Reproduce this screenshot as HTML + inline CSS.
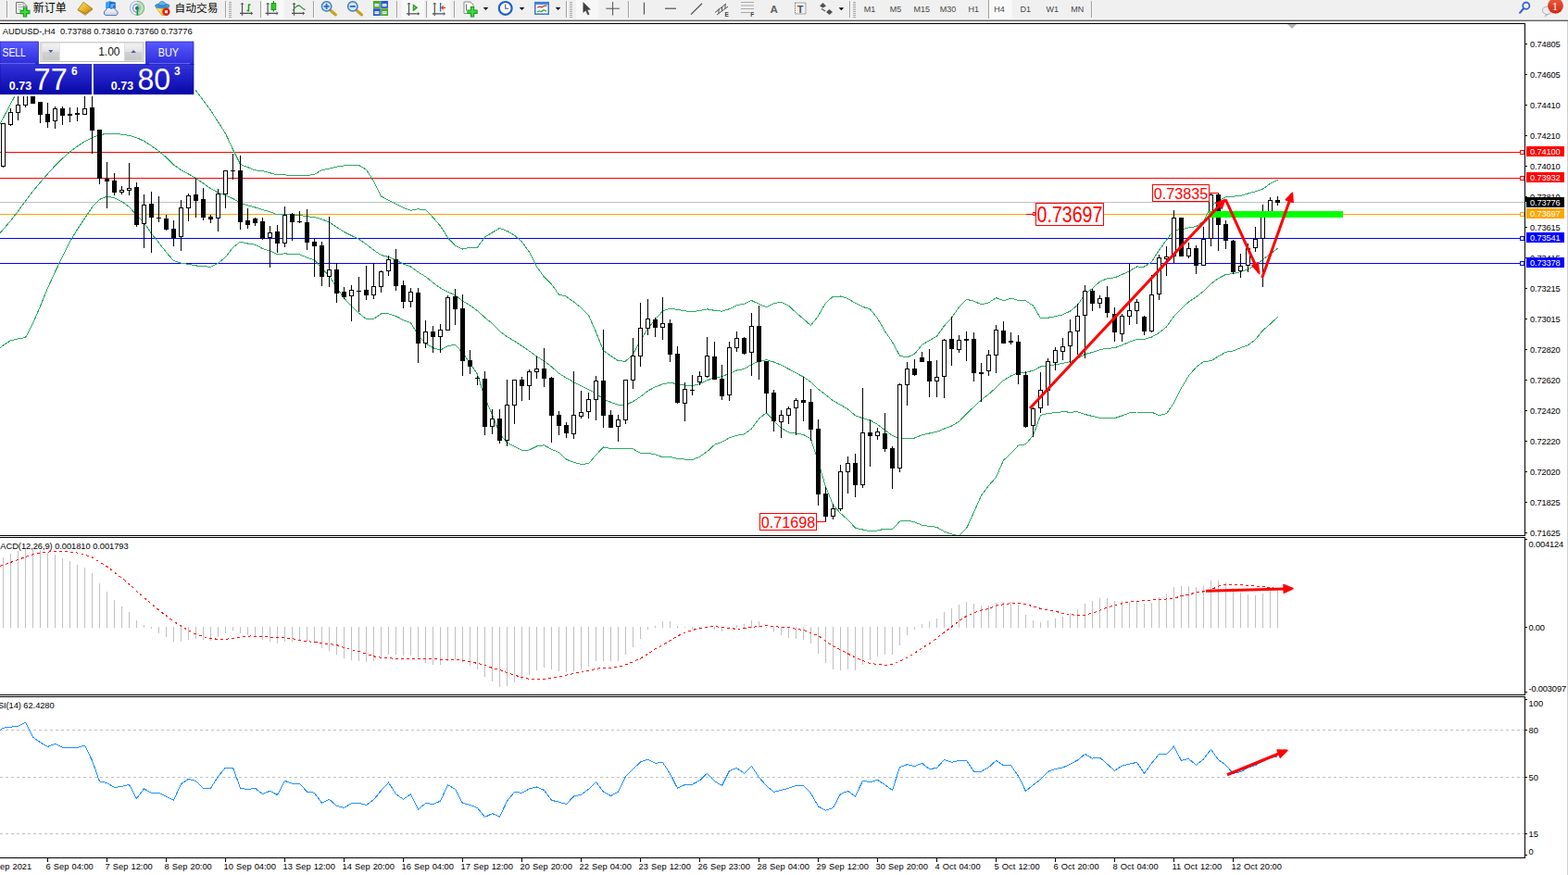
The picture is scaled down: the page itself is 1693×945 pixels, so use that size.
<!DOCTYPE html>
<html><head><meta charset="utf-8"><title>AUDUSD H4</title>
<style>
html,body{margin:0;padding:0;background:#fff;}
body{width:1693px;height:945px;position:relative;overflow:hidden;font-family:"Liberation Sans",sans-serif;}
svg text{font-family:"Liberation Sans",sans-serif;}
</style></head><body>
<svg width="1693" height="945" viewBox="0 0 1693 945" style="position:absolute;left:0;top:0" font-family="Liberation Sans, sans-serif">
<defs>
<clipPath id="cm"><rect x="0" y="26" width="1646" height="552"/></clipPath>
<clipPath id="c2"><rect x="0" y="581" width="1646" height="169"/></clipPath>
<clipPath id="c3"><rect x="0" y="753" width="1646" height="173"/></clipPath>
</defs>
<rect x="0" y="23" width="1693" height="922" fill="#fff" />
<g clip-path="url(#cm)">
<g shape-rendering="crispEdges">
<rect x="0" y="164" width="1646" height="1" fill="#ff0000" />
<rect x="0" y="192" width="1646" height="1" fill="#ff0000" />
<rect x="0" y="218" width="1646" height="1" fill="#c0c0c0" />
<rect x="0" y="231" width="1646" height="1" fill="#ffa500" />
<rect x="0" y="257" width="1646" height="1" fill="#0000ff" />
<rect x="0" y="284" width="1646" height="1" fill="#0000ff" />
</g>
<g shape-rendering="crispEdges">
<polyline points="-4.5,142.5 3.5,127.4 11.5,112.2 19.5,97.1 27.5,88.0 35.5,84.1 43.5,80.1 51.5,76.2 59.5,72.2 67.5,70.5 75.5,68.9 83.5,67.3 91.5,65.7 99.5,64.1 107.5,62.5 115.5,62.3 123.5,62.7 131.5,63.1 139.5,63.5 147.5,63.9 155.5,64.3 163.5,62.8 171.5,64.3 179.5,67.3 187.5,74.5 195.5,83.0 203.5,90.6 211.5,97.7 219.5,108.5 227.5,119.3 235.5,131.7 243.5,144.2 251.5,161.5 259.5,177.5 267.5,180.6 275.5,183.9 283.5,184.5 291.5,186.7 299.5,189.0 307.5,188.8 315.5,189.8 323.5,189.9 331.5,189.4 339.5,188.5 347.5,183.6 355.5,182.2 363.5,180.1 371.5,179.0 379.5,178.3 387.5,178.4 395.5,183.1 403.5,195.8 411.5,212.0 419.5,216.2 427.5,220.2 435.5,224.4 443.5,227.3 451.5,225.8 459.5,226.7 467.5,234.8 475.5,244.1 483.5,256.7 491.5,265.3 499.5,269.0 507.5,267.4 515.5,267.1 523.5,256.1 531.5,251.1 539.5,246.5 547.5,249.4 555.5,254.2 563.5,261.1 571.5,272.2 579.5,288.0 587.5,299.2 595.5,307.0 603.5,318.2 611.5,320.2 619.5,326.1 627.5,332.2 635.5,340.4 643.5,358.7 651.5,378.7 659.5,384.3 667.5,389.8 675.5,390.2 683.5,382.4 691.5,367.8 699.5,354.9 707.5,345.0 715.5,336.0 723.5,333.1 731.5,334.4 739.5,335.9 747.5,336.5 755.5,335.7 763.5,333.8 771.5,335.4 779.5,336.1 787.5,333.7 795.5,329.8 803.5,328.1 811.5,324.5 819.5,328.4 827.5,331.7 835.5,327.6 843.5,326.2 851.5,330.1 859.5,337.7 867.5,344.5 875.5,351.5 883.5,341.2 891.5,327.2 899.5,320.2 907.5,320.0 915.5,322.5 923.5,327.4 931.5,331.4 939.5,333.8 947.5,343.8 955.5,357.6 963.5,369.5 971.5,384.2 979.5,385.9 987.5,382.3 995.5,372.4 1003.5,367.7 1011.5,363.1 1019.5,351.9 1027.5,343.3 1035.5,331.7 1043.5,323.3 1051.5,325.2 1059.5,328.8 1067.5,326.9 1075.5,321.6 1083.5,324.7 1091.5,322.1 1099.5,324.3 1107.5,324.9 1115.5,330.0 1123.5,343.7 1131.5,343.2 1139.5,341.7 1147.5,339.8 1155.5,336.1 1163.5,329.5 1171.5,317.4 1179.5,311.4 1187.5,304.1 1195.5,300.7 1203.5,299.9 1211.5,296.5 1219.5,292.8 1227.5,288.0 1235.5,288.1 1243.5,282.8 1251.5,270.1 1259.5,259.3 1267.5,248.3 1275.5,247.8 1283.5,245.8 1291.5,244.7 1299.5,238.8 1307.5,223.0 1315.5,216.5 1323.5,212.7 1331.5,212.1 1339.5,211.4 1347.5,209.0 1355.5,206.8 1363.5,204.1 1371.5,198.3 1379.5,194.3" fill="none" stroke="#2ea868" stroke-width="1" />
<polyline points="-4.5,257.5 3.5,247.6 11.5,238.4 19.5,228.2 27.5,217.0 35.5,206.6 43.5,197.0 51.5,187.8 59.5,179.0 67.5,171.1 75.5,164.1 83.5,158.0 91.5,152.7 99.5,148.7 107.5,145.6 115.5,144.4 123.5,144.4 131.5,145.1 139.5,146.4 147.5,148.6 155.5,152.4 163.5,157.5 171.5,163.2 179.5,169.9 187.5,178.0 195.5,183.6 203.5,188.0 211.5,192.3 219.5,198.1 227.5,203.7 235.5,208.0 243.5,211.0 251.5,214.4 259.5,219.3 267.5,221.8 275.5,224.0 283.5,226.5 291.5,228.8 299.5,231.8 307.5,231.3 315.5,232.2 323.5,232.4 331.5,233.7 339.5,234.6 347.5,236.7 355.5,240.1 363.5,245.3 371.5,250.5 379.5,254.5 387.5,258.3 395.5,263.8 403.5,270.1 411.5,275.5 419.5,277.5 427.5,280.8 435.5,285.1 443.5,288.0 451.5,293.9 459.5,298.7 467.5,305.2 475.5,311.1 483.5,315.2 491.5,318.8 499.5,325.0 507.5,329.9 515.5,335.7 523.5,342.9 531.5,349.5 539.5,357.6 547.5,363.8 555.5,368.3 563.5,373.7 571.5,379.1 579.5,385.0 587.5,390.0 595.5,396.1 603.5,403.3 611.5,408.2 619.5,412.7 627.5,416.8 635.5,420.6 643.5,425.1 651.5,430.8 659.5,434.4 667.5,437.3 675.5,437.4 683.5,433.6 691.5,428.7 699.5,422.1 707.5,417.9 715.5,414.9 723.5,413.2 731.5,414.8 739.5,416.0 747.5,416.6 755.5,414.5 763.5,410.7 771.5,407.9 779.5,406.8 787.5,403.3 795.5,400.0 803.5,398.5 811.5,393.7 819.5,390.2 827.5,388.7 835.5,391.0 843.5,394.2 851.5,398.5 859.5,402.9 867.5,407.0 875.5,412.7 883.5,420.2 891.5,426.4 899.5,432.8 907.5,437.2 915.5,441.9 923.5,448.8 931.5,451.7 939.5,453.9 947.5,458.4 955.5,464.4 963.5,470.5 971.5,473.7 979.5,474.0 987.5,473.0 995.5,469.8 1003.5,468.0 1011.5,466.3 1019.5,463.0 1027.5,460.1 1035.5,455.3 1043.5,447.0 1051.5,439.3 1059.5,432.0 1067.5,425.7 1075.5,418.5 1083.5,410.8 1091.5,406.0 1099.5,402.7 1107.5,402.4 1115.5,400.2 1123.5,396.0 1131.5,394.8 1139.5,393.8 1147.5,392.3 1155.5,390.7 1163.5,387.1 1171.5,382.5 1179.5,380.5 1187.5,377.7 1195.5,376.3 1203.5,375.8 1211.5,372.7 1219.5,369.3 1227.5,366.5 1235.5,366.5 1243.5,364.0 1251.5,359.4 1259.5,353.0 1267.5,341.7 1275.5,333.5 1283.5,325.9 1291.5,320.7 1299.5,314.6 1307.5,306.4 1315.5,300.6 1323.5,296.5 1331.5,295.6 1339.5,293.5 1347.5,290.8 1355.5,286.8 1363.5,280.4 1371.5,274.2 1379.5,268.4" fill="none" stroke="#2ea868" stroke-width="1" />
<polyline points="-4.5,379.0 3.5,372.9 11.5,367.8 19.5,365.9 27.5,364.5 35.5,349.4 43.5,330.7 51.5,311.0 59.5,293.7 67.5,277.0 75.5,260.9 83.5,247.7 91.5,235.8 99.5,223.8 107.5,215.4 115.5,212.2 123.5,213.7 131.5,217.6 139.5,223.6 147.5,232.2 155.5,240.5 163.5,252.2 171.5,262.1 179.5,272.6 187.5,281.5 195.5,284.3 203.5,285.4 211.5,286.9 219.5,287.8 227.5,288.2 235.5,284.2 243.5,277.8 251.5,267.3 259.5,261.1 267.5,263.0 275.5,264.2 283.5,268.5 291.5,271.0 299.5,274.7 307.5,273.8 315.5,274.6 323.5,274.9 331.5,278.1 339.5,280.8 347.5,289.8 355.5,297.9 363.5,310.5 371.5,322.0 379.5,330.7 387.5,338.2 395.5,344.5 403.5,344.3 411.5,339.0 419.5,338.9 427.5,341.4 435.5,345.7 443.5,348.6 451.5,362.0 459.5,370.7 467.5,375.7 475.5,378.1 483.5,373.7 491.5,372.3 499.5,381.1 507.5,392.3 515.5,404.3 523.5,429.7 531.5,447.8 539.5,468.6 547.5,478.1 555.5,482.4 563.5,486.3 571.5,486.0 579.5,482.0 587.5,480.8 595.5,485.3 603.5,488.5 611.5,496.2 619.5,499.3 627.5,501.4 635.5,500.7 643.5,491.4 651.5,482.9 659.5,484.5 667.5,484.7 675.5,484.5 683.5,484.8 691.5,489.5 699.5,489.3 707.5,490.9 715.5,493.7 723.5,493.3 731.5,495.3 739.5,496.1 747.5,496.6 755.5,493.3 763.5,487.7 771.5,480.3 779.5,477.5 787.5,472.9 795.5,470.2 803.5,469.0 811.5,463.0 819.5,452.0 827.5,445.8 835.5,454.3 843.5,462.2 851.5,466.9 859.5,468.1 867.5,469.5 875.5,473.9 883.5,499.3 891.5,525.5 899.5,545.4 907.5,554.4 915.5,561.3 923.5,570.2 931.5,572.0 939.5,573.9 947.5,572.9 955.5,571.1 963.5,571.6 971.5,563.1 979.5,562.1 987.5,563.8 995.5,567.2 1003.5,568.3 1011.5,569.4 1019.5,574.1 1027.5,576.9 1035.5,578.8 1043.5,570.7 1051.5,553.3 1059.5,535.1 1067.5,524.5 1075.5,515.5 1083.5,497.0 1091.5,489.8 1099.5,481.1 1107.5,479.8 1115.5,470.4 1123.5,448.3 1131.5,446.3 1139.5,445.8 1147.5,444.7 1155.5,445.2 1163.5,444.8 1171.5,447.5 1179.5,449.5 1187.5,451.4 1195.5,451.8 1203.5,451.7 1211.5,449.0 1219.5,445.9 1227.5,445.0 1235.5,445.0 1243.5,445.1 1251.5,448.6 1259.5,446.6 1267.5,435.2 1275.5,419.2 1283.5,405.9 1291.5,396.6 1299.5,390.4 1307.5,389.8 1315.5,384.8 1323.5,380.3 1331.5,379.0 1339.5,375.7 1347.5,372.7 1355.5,366.8 1363.5,356.8 1371.5,350.0 1379.5,342.4" fill="none" stroke="#2ea868" stroke-width="1" />
</g>
<g shape-rendering="crispEdges">
<rect x="3" y="133" width="1" height="48" fill="#000" />
<rect x="1" y="133" width="5" height="47" fill="#000" />
<rect x="2" y="134" width="3" height="45" fill="#fff" />
<rect x="11" y="117" width="1" height="19" fill="#000" />
<rect x="9" y="121" width="5" height="14" fill="#000" />
<rect x="10" y="122" width="3" height="12" fill="#fff" />
<rect x="19" y="98" width="1" height="32" fill="#000" />
<rect x="17" y="113" width="5" height="9" fill="#000" />
<rect x="18" y="114" width="3" height="7" fill="#fff" />
<rect x="27" y="96" width="1" height="20" fill="#000" />
<rect x="25" y="96" width="5" height="18" fill="#000" />
<rect x="26" y="97" width="3" height="16" fill="#fff" />
<rect x="35" y="96" width="1" height="16" fill="#000" />
<rect x="33" y="96" width="5" height="16" fill="#000" />
<rect x="43" y="110" width="1" height="23" fill="#000" />
<rect x="41" y="110" width="5" height="14" fill="#000" />
<rect x="51" y="111" width="1" height="27" fill="#000" />
<rect x="49" y="123" width="5" height="9" fill="#000" />
<rect x="59" y="115" width="1" height="24" fill="#000" />
<rect x="57" y="117" width="5" height="14" fill="#000" />
<rect x="58" y="118" width="3" height="12" fill="#fff" />
<rect x="67" y="115" width="1" height="20" fill="#000" />
<rect x="65" y="117" width="5" height="8" fill="#000" />
<rect x="75" y="116" width="1" height="16" fill="#000" />
<rect x="73" y="123" width="5" height="2" fill="#000" />
<rect x="83" y="116" width="1" height="15" fill="#000" />
<rect x="81" y="122" width="5" height="2" fill="#000" />
<rect x="91" y="98" width="1" height="26" fill="#000" />
<rect x="89" y="117" width="5" height="7" fill="#000" />
<rect x="90" y="118" width="3" height="5" fill="#fff" />
<rect x="99" y="98" width="1" height="68" fill="#000" />
<rect x="97" y="116" width="5" height="25" fill="#000" />
<rect x="107" y="140" width="1" height="59" fill="#000" />
<rect x="105" y="140" width="5" height="53" fill="#000" />
<rect x="115" y="175" width="1" height="50" fill="#000" />
<rect x="113" y="193" width="5" height="3" fill="#000" />
<rect x="123" y="187" width="1" height="24" fill="#000" />
<rect x="121" y="195" width="5" height="13" fill="#000" />
<rect x="131" y="201" width="1" height="9" fill="#000" />
<rect x="129" y="205" width="5" height="3" fill="#000" />
<rect x="130" y="206" width="3" height="1" fill="#fff" />
<rect x="139" y="176" width="1" height="35" fill="#000" />
<rect x="137" y="203" width="5" height="3" fill="#000" />
<rect x="138" y="204" width="3" height="1" fill="#fff" />
<rect x="147" y="197" width="1" height="48" fill="#000" />
<rect x="145" y="202" width="5" height="41" fill="#000" />
<rect x="155" y="210" width="1" height="58" fill="#000" />
<rect x="153" y="221" width="5" height="21" fill="#000" />
<rect x="154" y="222" width="3" height="19" fill="#fff" />
<rect x="163" y="207" width="1" height="66" fill="#000" />
<rect x="161" y="220" width="5" height="15" fill="#000" />
<rect x="171" y="212" width="1" height="28" fill="#000" />
<rect x="169" y="235" width="5" height="1" fill="#000" />
<rect x="179" y="232" width="1" height="17" fill="#000" />
<rect x="177" y="236" width="5" height="12" fill="#000" />
<rect x="187" y="238" width="1" height="28" fill="#000" />
<rect x="185" y="247" width="5" height="10" fill="#000" />
<rect x="195" y="216" width="1" height="55" fill="#000" />
<rect x="193" y="224" width="5" height="32" fill="#000" />
<rect x="194" y="225" width="3" height="30" fill="#fff" />
<rect x="203" y="209" width="1" height="30" fill="#000" />
<rect x="201" y="211" width="5" height="14" fill="#000" />
<rect x="202" y="212" width="3" height="12" fill="#fff" />
<rect x="211" y="192" width="1" height="43" fill="#000" />
<rect x="209" y="210" width="5" height="7" fill="#000" />
<rect x="219" y="203" width="1" height="35" fill="#000" />
<rect x="217" y="215" width="5" height="20" fill="#000" />
<rect x="227" y="232" width="1" height="9" fill="#000" />
<rect x="225" y="234" width="5" height="3" fill="#000" />
<rect x="235" y="204" width="1" height="46" fill="#000" />
<rect x="233" y="209" width="5" height="27" fill="#000" />
<rect x="234" y="210" width="3" height="25" fill="#fff" />
<rect x="243" y="184" width="1" height="41" fill="#000" />
<rect x="241" y="184" width="5" height="26" fill="#000" />
<rect x="242" y="185" width="3" height="24" fill="#fff" />
<rect x="251" y="166" width="1" height="28" fill="#000" />
<rect x="249" y="184" width="5" height="1" fill="#000" />
<rect x="259" y="168" width="1" height="80" fill="#000" />
<rect x="257" y="184" width="5" height="56" fill="#000" />
<rect x="267" y="225" width="1" height="22" fill="#000" />
<rect x="265" y="238" width="5" height="5" fill="#000" />
<rect x="275" y="235" width="1" height="9" fill="#000" />
<rect x="273" y="236" width="5" height="5" fill="#000" />
<rect x="283" y="235" width="1" height="24" fill="#000" />
<rect x="281" y="239" width="5" height="19" fill="#000" />
<rect x="291" y="244" width="1" height="45" fill="#000" />
<rect x="289" y="251" width="5" height="6" fill="#000" />
<rect x="290" y="252" width="3" height="4" fill="#fff" />
<rect x="299" y="243" width="1" height="30" fill="#000" />
<rect x="297" y="250" width="5" height="13" fill="#000" />
<rect x="307" y="223" width="1" height="44" fill="#000" />
<rect x="305" y="232" width="5" height="31" fill="#000" />
<rect x="306" y="233" width="3" height="29" fill="#fff" />
<rect x="315" y="230" width="1" height="30" fill="#000" />
<rect x="313" y="231" width="5" height="9" fill="#000" />
<rect x="323" y="228" width="1" height="13" fill="#000" />
<rect x="321" y="239" width="5" height="1" fill="#000" />
<rect x="331" y="226" width="1" height="44" fill="#000" />
<rect x="329" y="240" width="5" height="22" fill="#000" />
<rect x="339" y="258" width="1" height="41" fill="#000" />
<rect x="337" y="261" width="5" height="5" fill="#000" />
<rect x="347" y="261" width="1" height="48" fill="#000" />
<rect x="345" y="265" width="5" height="34" fill="#000" />
<rect x="355" y="234" width="1" height="76" fill="#000" />
<rect x="353" y="291" width="5" height="8" fill="#000" />
<rect x="354" y="292" width="3" height="6" fill="#fff" />
<rect x="363" y="284" width="1" height="43" fill="#000" />
<rect x="361" y="291" width="5" height="26" fill="#000" />
<rect x="371" y="310" width="1" height="13" fill="#000" />
<rect x="369" y="315" width="5" height="6" fill="#000" />
<rect x="379" y="308" width="1" height="39" fill="#000" />
<rect x="377" y="313" width="5" height="7" fill="#000" />
<rect x="378" y="314" width="3" height="5" fill="#fff" />
<rect x="387" y="299" width="1" height="38" fill="#000" />
<rect x="385" y="314" width="5" height="1" fill="#000" />
<rect x="395" y="287" width="1" height="37" fill="#000" />
<rect x="393" y="313" width="5" height="6" fill="#000" />
<rect x="403" y="284" width="1" height="39" fill="#000" />
<rect x="401" y="309" width="5" height="10" fill="#000" />
<rect x="402" y="310" width="3" height="8" fill="#fff" />
<rect x="411" y="292" width="1" height="24" fill="#000" />
<rect x="409" y="293" width="5" height="17" fill="#000" />
<rect x="410" y="294" width="3" height="15" fill="#fff" />
<rect x="419" y="276" width="1" height="22" fill="#000" />
<rect x="417" y="280" width="5" height="13" fill="#000" />
<rect x="418" y="281" width="3" height="11" fill="#fff" />
<rect x="427" y="269" width="1" height="45" fill="#000" />
<rect x="425" y="280" width="5" height="29" fill="#000" />
<rect x="435" y="303" width="1" height="30" fill="#000" />
<rect x="433" y="308" width="5" height="18" fill="#000" />
<rect x="443" y="311" width="1" height="21" fill="#000" />
<rect x="441" y="315" width="5" height="11" fill="#000" />
<rect x="442" y="316" width="3" height="9" fill="#fff" />
<rect x="451" y="311" width="1" height="81" fill="#000" />
<rect x="449" y="316" width="5" height="55" fill="#000" />
<rect x="459" y="346" width="1" height="30" fill="#000" />
<rect x="457" y="358" width="5" height="13" fill="#000" />
<rect x="458" y="359" width="3" height="11" fill="#fff" />
<rect x="467" y="352" width="1" height="29" fill="#000" />
<rect x="465" y="358" width="5" height="6" fill="#000" />
<rect x="475" y="350" width="1" height="31" fill="#000" />
<rect x="473" y="356" width="5" height="8" fill="#000" />
<rect x="474" y="357" width="3" height="6" fill="#fff" />
<rect x="483" y="319" width="1" height="37" fill="#000" />
<rect x="481" y="321" width="5" height="36" fill="#000" />
<rect x="482" y="322" width="3" height="34" fill="#fff" />
<rect x="491" y="312" width="1" height="39" fill="#000" />
<rect x="489" y="320" width="5" height="14" fill="#000" />
<rect x="499" y="318" width="1" height="88" fill="#000" />
<rect x="497" y="333" width="5" height="57" fill="#000" />
<rect x="507" y="378" width="1" height="26" fill="#000" />
<rect x="505" y="389" width="5" height="7" fill="#000" />
<rect x="515" y="406" width="1" height="10" fill="#000" />
<rect x="513" y="408" width="5" height="1" fill="#000" />
<rect x="523" y="401" width="1" height="69" fill="#000" />
<rect x="521" y="409" width="5" height="52" fill="#000" />
<rect x="531" y="442" width="1" height="27" fill="#000" />
<rect x="529" y="452" width="5" height="9" fill="#000" />
<rect x="530" y="453" width="3" height="7" fill="#fff" />
<rect x="539" y="442" width="1" height="37" fill="#000" />
<rect x="537" y="452" width="5" height="24" fill="#000" />
<rect x="547" y="410" width="1" height="72" fill="#000" />
<rect x="545" y="437" width="5" height="39" fill="#000" />
<rect x="546" y="438" width="3" height="37" fill="#fff" />
<rect x="555" y="410" width="1" height="48" fill="#000" />
<rect x="553" y="410" width="5" height="28" fill="#000" />
<rect x="554" y="411" width="3" height="26" fill="#fff" />
<rect x="563" y="407" width="1" height="26" fill="#000" />
<rect x="561" y="410" width="5" height="7" fill="#000" />
<rect x="571" y="399" width="1" height="33" fill="#000" />
<rect x="569" y="401" width="5" height="16" fill="#000" />
<rect x="570" y="402" width="3" height="14" fill="#fff" />
<rect x="579" y="385" width="1" height="24" fill="#000" />
<rect x="577" y="398" width="5" height="4" fill="#000" />
<rect x="578" y="399" width="3" height="2" fill="#fff" />
<rect x="587" y="376" width="1" height="42" fill="#000" />
<rect x="585" y="398" width="5" height="11" fill="#000" />
<rect x="595" y="407" width="1" height="71" fill="#000" />
<rect x="593" y="408" width="5" height="41" fill="#000" />
<rect x="603" y="444" width="1" height="26" fill="#000" />
<rect x="601" y="448" width="5" height="12" fill="#000" />
<rect x="611" y="456" width="1" height="17" fill="#000" />
<rect x="609" y="459" width="5" height="9" fill="#000" />
<rect x="619" y="401" width="1" height="73" fill="#000" />
<rect x="617" y="448" width="5" height="21" fill="#000" />
<rect x="618" y="449" width="3" height="19" fill="#fff" />
<rect x="627" y="422" width="1" height="30" fill="#000" />
<rect x="625" y="445" width="5" height="5" fill="#000" />
<rect x="626" y="446" width="3" height="3" fill="#fff" />
<rect x="635" y="424" width="1" height="28" fill="#000" />
<rect x="633" y="431" width="5" height="14" fill="#000" />
<rect x="634" y="432" width="3" height="12" fill="#fff" />
<rect x="643" y="406" width="1" height="48" fill="#000" />
<rect x="641" y="411" width="5" height="21" fill="#000" />
<rect x="642" y="412" width="3" height="19" fill="#fff" />
<rect x="651" y="356" width="1" height="106" fill="#000" />
<rect x="649" y="411" width="5" height="38" fill="#000" />
<rect x="659" y="443" width="1" height="19" fill="#000" />
<rect x="657" y="448" width="5" height="14" fill="#000" />
<rect x="667" y="448" width="1" height="29" fill="#000" />
<rect x="665" y="453" width="5" height="8" fill="#000" />
<rect x="666" y="454" width="3" height="6" fill="#fff" />
<rect x="675" y="410" width="1" height="48" fill="#000" />
<rect x="673" y="410" width="5" height="44" fill="#000" />
<rect x="674" y="411" width="3" height="42" fill="#fff" />
<rect x="683" y="365" width="1" height="55" fill="#000" />
<rect x="681" y="384" width="5" height="27" fill="#000" />
<rect x="682" y="385" width="3" height="25" fill="#fff" />
<rect x="691" y="327" width="1" height="69" fill="#000" />
<rect x="689" y="354" width="5" height="31" fill="#000" />
<rect x="690" y="355" width="3" height="29" fill="#fff" />
<rect x="699" y="323" width="1" height="39" fill="#000" />
<rect x="697" y="344" width="5" height="11" fill="#000" />
<rect x="698" y="345" width="3" height="9" fill="#fff" />
<rect x="707" y="343" width="1" height="21" fill="#000" />
<rect x="705" y="345" width="5" height="9" fill="#000" />
<rect x="715" y="321" width="1" height="46" fill="#000" />
<rect x="713" y="349" width="5" height="5" fill="#000" />
<rect x="714" y="350" width="3" height="3" fill="#fff" />
<rect x="723" y="345" width="1" height="46" fill="#000" />
<rect x="721" y="349" width="5" height="34" fill="#000" />
<rect x="731" y="374" width="1" height="62" fill="#000" />
<rect x="729" y="382" width="5" height="53" fill="#000" />
<rect x="739" y="413" width="1" height="42" fill="#000" />
<rect x="737" y="420" width="5" height="16" fill="#000" />
<rect x="738" y="421" width="3" height="14" fill="#fff" />
<rect x="747" y="405" width="1" height="22" fill="#000" />
<rect x="745" y="421" width="5" height="1" fill="#000" />
<rect x="755" y="401" width="1" height="15" fill="#000" />
<rect x="753" y="406" width="5" height="7" fill="#000" />
<rect x="754" y="407" width="3" height="5" fill="#fff" />
<rect x="763" y="364" width="1" height="44" fill="#000" />
<rect x="761" y="384" width="5" height="23" fill="#000" />
<rect x="762" y="385" width="3" height="21" fill="#fff" />
<rect x="771" y="369" width="1" height="41" fill="#000" />
<rect x="769" y="385" width="5" height="25" fill="#000" />
<rect x="779" y="394" width="1" height="38" fill="#000" />
<rect x="777" y="409" width="5" height="19" fill="#000" />
<rect x="787" y="369" width="1" height="64" fill="#000" />
<rect x="785" y="375" width="5" height="52" fill="#000" />
<rect x="786" y="376" width="3" height="50" fill="#fff" />
<rect x="795" y="358" width="1" height="22" fill="#000" />
<rect x="793" y="365" width="5" height="11" fill="#000" />
<rect x="794" y="366" width="3" height="9" fill="#fff" />
<rect x="803" y="364" width="1" height="19" fill="#000" />
<rect x="801" y="365" width="5" height="17" fill="#000" />
<rect x="811" y="338" width="1" height="68" fill="#000" />
<rect x="809" y="352" width="5" height="29" fill="#000" />
<rect x="810" y="353" width="3" height="27" fill="#fff" />
<rect x="819" y="330" width="1" height="80" fill="#000" />
<rect x="817" y="352" width="5" height="39" fill="#000" />
<rect x="827" y="390" width="1" height="56" fill="#000" />
<rect x="825" y="390" width="5" height="35" fill="#000" />
<rect x="835" y="421" width="1" height="45" fill="#000" />
<rect x="833" y="424" width="5" height="31" fill="#000" />
<rect x="843" y="443" width="1" height="30" fill="#000" />
<rect x="841" y="448" width="5" height="8" fill="#000" />
<rect x="842" y="449" width="3" height="6" fill="#fff" />
<rect x="851" y="439" width="1" height="19" fill="#000" />
<rect x="849" y="441" width="5" height="8" fill="#000" />
<rect x="850" y="442" width="3" height="6" fill="#fff" />
<rect x="859" y="430" width="1" height="40" fill="#000" />
<rect x="857" y="432" width="5" height="9" fill="#000" />
<rect x="858" y="433" width="3" height="7" fill="#fff" />
<rect x="867" y="407" width="1" height="48" fill="#000" />
<rect x="865" y="432" width="5" height="3" fill="#000" />
<rect x="875" y="420" width="1" height="56" fill="#000" />
<rect x="873" y="434" width="5" height="30" fill="#000" />
<rect x="883" y="453" width="1" height="93" fill="#000" />
<rect x="881" y="463" width="5" height="71" fill="#000" />
<rect x="891" y="526" width="1" height="38" fill="#000" />
<rect x="889" y="533" width="5" height="25" fill="#000" />
<rect x="899" y="544" width="1" height="17" fill="#000" />
<rect x="897" y="549" width="5" height="9" fill="#000" />
<rect x="898" y="550" width="3" height="7" fill="#fff" />
<rect x="907" y="502" width="1" height="50" fill="#000" />
<rect x="905" y="509" width="5" height="41" fill="#000" />
<rect x="906" y="510" width="3" height="39" fill="#fff" />
<rect x="915" y="493" width="1" height="40" fill="#000" />
<rect x="913" y="500" width="5" height="10" fill="#000" />
<rect x="914" y="501" width="3" height="8" fill="#fff" />
<rect x="923" y="490" width="1" height="47" fill="#000" />
<rect x="921" y="500" width="5" height="24" fill="#000" />
<rect x="931" y="419" width="1" height="108" fill="#000" />
<rect x="929" y="467" width="5" height="57" fill="#000" />
<rect x="930" y="468" width="3" height="55" fill="#fff" />
<rect x="939" y="453" width="1" height="51" fill="#000" />
<rect x="937" y="467" width="5" height="4" fill="#000" />
<rect x="947" y="462" width="1" height="13" fill="#000" />
<rect x="945" y="466" width="5" height="5" fill="#000" />
<rect x="946" y="467" width="3" height="3" fill="#fff" />
<rect x="955" y="446" width="1" height="42" fill="#000" />
<rect x="953" y="468" width="5" height="17" fill="#000" />
<rect x="963" y="482" width="1" height="46" fill="#000" />
<rect x="961" y="484" width="5" height="22" fill="#000" />
<rect x="971" y="414" width="1" height="96" fill="#000" />
<rect x="969" y="415" width="5" height="91" fill="#000" />
<rect x="970" y="416" width="3" height="89" fill="#fff" />
<rect x="979" y="391" width="1" height="47" fill="#000" />
<rect x="977" y="398" width="5" height="18" fill="#000" />
<rect x="978" y="399" width="3" height="16" fill="#fff" />
<rect x="987" y="388" width="1" height="18" fill="#000" />
<rect x="985" y="398" width="5" height="7" fill="#000" />
<rect x="995" y="380" width="1" height="11" fill="#000" />
<rect x="993" y="386" width="5" height="5" fill="#000" />
<rect x="1003" y="377" width="1" height="52" fill="#000" />
<rect x="1001" y="390" width="5" height="22" fill="#000" />
<rect x="1011" y="389" width="1" height="40" fill="#000" />
<rect x="1009" y="407" width="5" height="5" fill="#000" />
<rect x="1010" y="408" width="3" height="3" fill="#fff" />
<rect x="1019" y="366" width="1" height="64" fill="#000" />
<rect x="1017" y="367" width="5" height="40" fill="#000" />
<rect x="1018" y="368" width="3" height="38" fill="#fff" />
<rect x="1027" y="342" width="1" height="53" fill="#000" />
<rect x="1025" y="366" width="5" height="11" fill="#000" />
<rect x="1035" y="362" width="1" height="19" fill="#000" />
<rect x="1033" y="367" width="5" height="11" fill="#000" />
<rect x="1034" y="368" width="3" height="9" fill="#fff" />
<rect x="1043" y="358" width="1" height="32" fill="#000" />
<rect x="1041" y="366" width="5" height="2" fill="#000" />
<rect x="1051" y="359" width="1" height="53" fill="#000" />
<rect x="1049" y="366" width="5" height="37" fill="#000" />
<rect x="1059" y="392" width="1" height="42" fill="#000" />
<rect x="1057" y="402" width="5" height="2" fill="#000" />
<rect x="1067" y="378" width="1" height="28" fill="#000" />
<rect x="1065" y="383" width="5" height="18" fill="#000" />
<rect x="1066" y="384" width="3" height="16" fill="#fff" />
<rect x="1075" y="351" width="1" height="52" fill="#000" />
<rect x="1073" y="356" width="5" height="28" fill="#000" />
<rect x="1074" y="357" width="3" height="26" fill="#fff" />
<rect x="1083" y="347" width="1" height="24" fill="#000" />
<rect x="1081" y="357" width="5" height="14" fill="#000" />
<rect x="1091" y="359" width="1" height="13" fill="#000" />
<rect x="1089" y="368" width="5" height="2" fill="#000" />
<rect x="1099" y="362" width="1" height="53" fill="#000" />
<rect x="1097" y="369" width="5" height="36" fill="#000" />
<rect x="1107" y="401" width="1" height="61" fill="#000" />
<rect x="1105" y="405" width="5" height="56" fill="#000" />
<rect x="1115" y="440" width="1" height="32" fill="#000" />
<rect x="1113" y="441" width="5" height="19" fill="#000" />
<rect x="1114" y="442" width="3" height="17" fill="#fff" />
<rect x="1123" y="402" width="1" height="44" fill="#000" />
<rect x="1121" y="421" width="5" height="20" fill="#000" />
<rect x="1122" y="422" width="3" height="18" fill="#fff" />
<rect x="1131" y="387" width="1" height="51" fill="#000" />
<rect x="1129" y="390" width="5" height="32" fill="#000" />
<rect x="1130" y="391" width="3" height="30" fill="#fff" />
<rect x="1139" y="375" width="1" height="25" fill="#000" />
<rect x="1137" y="378" width="5" height="14" fill="#000" />
<rect x="1138" y="379" width="3" height="12" fill="#fff" />
<rect x="1147" y="365" width="1" height="24" fill="#000" />
<rect x="1145" y="374" width="5" height="6" fill="#000" />
<rect x="1146" y="375" width="3" height="4" fill="#fff" />
<rect x="1155" y="345" width="1" height="47" fill="#000" />
<rect x="1153" y="358" width="5" height="16" fill="#000" />
<rect x="1154" y="359" width="3" height="14" fill="#fff" />
<rect x="1163" y="328" width="1" height="55" fill="#000" />
<rect x="1161" y="341" width="5" height="17" fill="#000" />
<rect x="1162" y="342" width="3" height="15" fill="#fff" />
<rect x="1171" y="308" width="1" height="79" fill="#000" />
<rect x="1169" y="314" width="5" height="27" fill="#000" />
<rect x="1170" y="315" width="3" height="25" fill="#fff" />
<rect x="1179" y="312" width="1" height="24" fill="#000" />
<rect x="1177" y="314" width="5" height="14" fill="#000" />
<rect x="1187" y="319" width="1" height="14" fill="#000" />
<rect x="1185" y="322" width="5" height="6" fill="#000" />
<rect x="1186" y="323" width="3" height="4" fill="#fff" />
<rect x="1195" y="309" width="1" height="34" fill="#000" />
<rect x="1193" y="321" width="5" height="17" fill="#000" />
<rect x="1203" y="332" width="1" height="37" fill="#000" />
<rect x="1201" y="339" width="5" height="20" fill="#000" />
<rect x="1211" y="339" width="1" height="30" fill="#000" />
<rect x="1209" y="341" width="5" height="20" fill="#000" />
<rect x="1210" y="342" width="3" height="18" fill="#fff" />
<rect x="1219" y="285" width="1" height="66" fill="#000" />
<rect x="1217" y="335" width="5" height="7" fill="#000" />
<rect x="1218" y="336" width="3" height="5" fill="#fff" />
<rect x="1227" y="323" width="1" height="27" fill="#000" />
<rect x="1225" y="326" width="5" height="10" fill="#000" />
<rect x="1226" y="327" width="3" height="8" fill="#fff" />
<rect x="1235" y="341" width="1" height="21" fill="#000" />
<rect x="1233" y="342" width="5" height="16" fill="#000" />
<rect x="1243" y="297" width="1" height="62" fill="#000" />
<rect x="1241" y="318" width="5" height="40" fill="#000" />
<rect x="1242" y="319" width="3" height="38" fill="#fff" />
<rect x="1251" y="275" width="1" height="49" fill="#000" />
<rect x="1249" y="278" width="5" height="40" fill="#000" />
<rect x="1250" y="279" width="3" height="38" fill="#fff" />
<rect x="1259" y="266" width="1" height="32" fill="#000" />
<rect x="1257" y="277" width="5" height="3" fill="#000" />
<rect x="1258" y="278" width="3" height="1" fill="#fff" />
<rect x="1267" y="227" width="1" height="57" fill="#000" />
<rect x="1265" y="235" width="5" height="42" fill="#000" />
<rect x="1266" y="236" width="3" height="40" fill="#fff" />
<rect x="1275" y="235" width="1" height="42" fill="#000" />
<rect x="1273" y="235" width="5" height="42" fill="#000" />
<rect x="1283" y="262" width="1" height="17" fill="#000" />
<rect x="1281" y="268" width="5" height="9" fill="#000" />
<rect x="1282" y="269" width="3" height="7" fill="#fff" />
<rect x="1291" y="265" width="1" height="31" fill="#000" />
<rect x="1289" y="268" width="5" height="19" fill="#000" />
<rect x="1299" y="245" width="1" height="42" fill="#000" />
<rect x="1297" y="258" width="5" height="29" fill="#000" />
<rect x="1298" y="259" width="3" height="27" fill="#fff" />
<rect x="1307" y="209" width="1" height="57" fill="#000" />
<rect x="1305" y="210" width="5" height="48" fill="#000" />
<rect x="1306" y="211" width="3" height="46" fill="#fff" />
<rect x="1315" y="208" width="1" height="63" fill="#000" />
<rect x="1313" y="210" width="5" height="33" fill="#000" />
<rect x="1323" y="238" width="1" height="31" fill="#000" />
<rect x="1321" y="242" width="5" height="18" fill="#000" />
<rect x="1331" y="259" width="1" height="37" fill="#000" />
<rect x="1329" y="260" width="5" height="34" fill="#000" />
<rect x="1339" y="274" width="1" height="26" fill="#000" />
<rect x="1337" y="287" width="5" height="6" fill="#000" />
<rect x="1338" y="288" width="3" height="4" fill="#fff" />
<rect x="1347" y="263" width="1" height="31" fill="#000" />
<rect x="1345" y="268" width="5" height="19" fill="#000" />
<rect x="1346" y="269" width="3" height="17" fill="#fff" />
<rect x="1355" y="245" width="1" height="27" fill="#000" />
<rect x="1353" y="258" width="5" height="10" fill="#000" />
<rect x="1354" y="259" width="3" height="8" fill="#fff" />
<rect x="1363" y="221" width="1" height="89" fill="#000" />
<rect x="1361" y="231" width="5" height="27" fill="#000" />
<rect x="1362" y="232" width="3" height="25" fill="#fff" />
<rect x="1371" y="213" width="1" height="18" fill="#000" />
<rect x="1369" y="216" width="5" height="15" fill="#000" />
<rect x="1370" y="217" width="3" height="13" fill="#fff" />
<rect x="1379" y="212" width="1" height="10" fill="#000" />
<rect x="1377" y="216" width="5" height="3" fill="#000" />
</g>
<rect x="1641.5" y="162.5" width="4" height="4" fill="#fff" stroke="#ff0000" stroke-width="1" shape-rendering="crispEdges"/>
<rect x="1641.5" y="190.5" width="4" height="4" fill="#fff" stroke="#ff0000" stroke-width="1" shape-rendering="crispEdges"/>
<rect x="1641.5" y="229.5" width="4" height="4" fill="#fff" stroke="#ffa500" stroke-width="1" shape-rendering="crispEdges"/>
<rect x="1641.5" y="255.5" width="4" height="4" fill="#fff" stroke="#0000ff" stroke-width="1" shape-rendering="crispEdges"/>
<rect x="1641.5" y="282.5" width="4" height="4" fill="#fff" stroke="#0000ff" stroke-width="1" shape-rendering="crispEdges"/>
<rect x="1305" y="228" width="145" height="7" fill="#00ff00" />
<line x1="1112" y1="441" x2="1321.8" y2="216.408" stroke="#ff0000" stroke-width="3" stroke-linecap="butt"/><polygon points="1322.8,215.4 1313.1,219.5 1319.3,225.3" fill="#ff0000" stroke="#ff0000" stroke-width="1.4" stroke-linejoin="round"/>
<line x1="1323.3" y1="215.5" x2="1359.19" y2="294.298" stroke="#ff0000" stroke-width="3" stroke-linecap="butt"/><polygon points="1359.8,295.6 1358.2,283.7 1351.8,286.6" fill="#ff0000" stroke="#ff0000" stroke-width="1.4" stroke-linejoin="round"/>
<line x1="1362.7" y1="300.1" x2="1394.96" y2="209.473" stroke="#ff0000" stroke-width="3" stroke-linecap="butt"/><polygon points="1395.4,208.2 1388.2,215.8 1396.2,218.6" fill="#ff0000" stroke="#ff0000" stroke-width="1.4" stroke-linejoin="round"/>
<rect x="1108" y="231" width="8" height="1" fill="#ff0000" />
<rect x="1115.5" y="229.5" width="2" height="3" fill="#fff" stroke="#ff0000" stroke-width="1" shape-rendering="crispEdges"/>
<rect x="1118.5" y="219.5" width="73" height="24" fill="#fff" stroke="#ff0000" stroke-width="1" shape-rendering="crispEdges"/><text x="1155" y="239.62" font-size="23.8" fill="#ff0000" text-anchor="middle" textLength="70.8" lengthAdjust="spacingAndGlyphs">0.73697</text>
<rect x="1244.5" y="199.5" width="61" height="18" fill="#fff" stroke="#ff0000" stroke-width="1" shape-rendering="crispEdges"/><text x="1275" y="215.086" font-size="17" fill="#ff0000" text-anchor="middle" textLength="58.3" lengthAdjust="spacingAndGlyphs">0.73835</text>
<rect x="1306" y="208" width="10" height="1" fill="#ff0000" />
<rect x="820.5" y="554.5" width="61" height="18" fill="#fff" stroke="#ff0000" stroke-width="1" shape-rendering="crispEdges"/><text x="851" y="570.086" font-size="17" fill="#ff0000" text-anchor="middle" textLength="58.3" lengthAdjust="spacingAndGlyphs">0.71698</text>
<rect x="882" y="563" width="10" height="1" fill="#ff0000" />
</g>
<polygon points="1390,26 1400,26 1395,31" fill="#b4b4b4"/>
<defs><linearGradient id="gb1" x1="0" y1="0" x2="0" y2="1"><stop offset="0" stop-color="#5a5aff"/><stop offset="1" stop-color="#2c2cdc"/></linearGradient><linearGradient id="gb2" x1="0" y1="0" x2="0" y2="1"><stop offset="0" stop-color="#3434dc"/><stop offset="0.55" stop-color="#1a1ac0"/><stop offset="1" stop-color="#0808a4"/></linearGradient><linearGradient id="gg" x1="0" y1="0" x2="0" y2="1"><stop offset="0" stop-color="#f4f4f4"/><stop offset="0.5" stop-color="#e2e2e2"/><stop offset="0.5" stop-color="#d2d2d2"/><stop offset="1" stop-color="#c8c8c8"/></linearGradient></defs>
<rect x="0" y="43" width="211" height="61" fill="#fff" />
<rect x="0" y="45" width="41.5" height="24" fill="url(#gb1)" stroke="#1818c0" stroke-width="0.7"/>
<rect x="157.5" y="45" width="51.5" height="24.5" fill="url(#gb1)" stroke="#1818c0" stroke-width="0.7"/>
<rect x="0" y="69.5" width="98.8" height="32.3" fill="url(#gb2)" stroke="#0c0ca4" stroke-width="0.7"/>
<rect x="101.2" y="69.5" width="107.8" height="32.3" fill="url(#gb2)" stroke="#0c0ca4" stroke-width="0.7"/>
<rect x="0" y="68.3" width="38" height="0.9" fill="#7c7cf0" />
<rect x="161" y="68.3" width="44" height="0.9" fill="#7c7cf0" />
<rect x="44" y="45.8" width="111" height="20.6" fill="#fff" stroke="#b8b8b8" stroke-width="1"/>
<rect x="45.3" y="47" width="19" height="18.4" fill="url(#gg)" stroke="#d8d8d8" stroke-width="0.6"/>
<rect x="134.3" y="47" width="19.6" height="18.4" fill="url(#gg)" stroke="#d8d8d8" stroke-width="0.6"/>
<polygon points="52.3,54 57.3,54 54.8,57" fill="#4a5aa8"/>
<polygon points="141.3,57 147,57 144.1,54" fill="#4a5aa8"/>
<text x="129.5" y="60" font-size="12" fill="#111" text-anchor="end" >1.00</text>
<text x="2.5" y="61" font-size="12.3" fill="#fff" text-anchor="start" textLength="25.4" lengthAdjust="spacingAndGlyphs">SELL</text>
<text x="170.8" y="61" font-size="12.3" fill="#fff" text-anchor="start" textLength="22.2" lengthAdjust="spacingAndGlyphs">BUY</text>
<text x="9.8" y="96.8" font-size="12.4" fill="#fff" text-anchor="start" font-weight="bold" textLength="24.3" lengthAdjust="spacingAndGlyphs">0.73</text>
<text x="119.8" y="96.8" font-size="12.4" fill="#fff" text-anchor="start" font-weight="bold" textLength="24.3" lengthAdjust="spacingAndGlyphs">0.73</text>
<text x="36.6" y="96.9" font-size="34" fill="#fff" text-anchor="start" textLength="36.2" lengthAdjust="spacingAndGlyphs">77</text>
<text x="148.5" y="96.9" font-size="34" fill="#fff" text-anchor="start" textLength="35.6" lengthAdjust="spacingAndGlyphs">80</text>
<text x="77" y="80.7" font-size="11.9" fill="#fff" text-anchor="start" font-weight="bold">6</text>
<text x="188.1" y="80.7" font-size="11.9" fill="#fff" text-anchor="start" font-weight="bold">3</text>
<text x="2.8" y="37.2" font-size="9.33" fill="#000" text-anchor="start" textLength="204.8" lengthAdjust="spacing">AUDUSD-,H4&#160;&#160;0.73788 0.73810 0.73760 0.73776</text>
<g clip-path="url(#c2)">
<g shape-rendering="crispEdges">
<rect x="3" y="602" width="1" height="76" fill="#c0c0c0" />
<rect x="11" y="598" width="1" height="80" fill="#c0c0c0" />
<rect x="19" y="595" width="1" height="83" fill="#c0c0c0" />
<rect x="27" y="593" width="1" height="85" fill="#c0c0c0" />
<rect x="35" y="594" width="1" height="84" fill="#c0c0c0" />
<rect x="43" y="594" width="1" height="84" fill="#c0c0c0" />
<rect x="51" y="597" width="1" height="81" fill="#c0c0c0" />
<rect x="59" y="599" width="1" height="79" fill="#c0c0c0" />
<rect x="67" y="603" width="1" height="75" fill="#c0c0c0" />
<rect x="75" y="606" width="1" height="72" fill="#c0c0c0" />
<rect x="83" y="610" width="1" height="68" fill="#c0c0c0" />
<rect x="91" y="613" width="1" height="65" fill="#c0c0c0" />
<rect x="99" y="619" width="1" height="59" fill="#c0c0c0" />
<rect x="107" y="630" width="1" height="48" fill="#c0c0c0" />
<rect x="115" y="639" width="1" height="39" fill="#c0c0c0" />
<rect x="123" y="648" width="1" height="30" fill="#c0c0c0" />
<rect x="131" y="655" width="1" height="23" fill="#c0c0c0" />
<rect x="139" y="661" width="1" height="17" fill="#c0c0c0" />
<rect x="147" y="670" width="1" height="8" fill="#c0c0c0" />
<rect x="155" y="675" width="1" height="3" fill="#c0c0c0" />
<rect x="163" y="677" width="1" height="2" fill="#c0c0c0" />
<rect x="171" y="677" width="1" height="7" fill="#c0c0c0" />
<rect x="179" y="677" width="1" height="11" fill="#c0c0c0" />
<rect x="187" y="677" width="1" height="16" fill="#c0c0c0" />
<rect x="195" y="677" width="1" height="16" fill="#c0c0c0" />
<rect x="203" y="677" width="1" height="14" fill="#c0c0c0" />
<rect x="211" y="677" width="1" height="13" fill="#c0c0c0" />
<rect x="219" y="677" width="1" height="14" fill="#c0c0c0" />
<rect x="227" y="677" width="1" height="15" fill="#c0c0c0" />
<rect x="235" y="677" width="1" height="11" fill="#c0c0c0" />
<rect x="243" y="677" width="1" height="7" fill="#c0c0c0" />
<rect x="251" y="677" width="1" height="4" fill="#c0c0c0" />
<rect x="259" y="677" width="1" height="7" fill="#c0c0c0" />
<rect x="267" y="677" width="1" height="9" fill="#c0c0c0" />
<rect x="275" y="677" width="1" height="11" fill="#c0c0c0" />
<rect x="283" y="677" width="1" height="14" fill="#c0c0c0" />
<rect x="291" y="677" width="1" height="16" fill="#c0c0c0" />
<rect x="299" y="677" width="1" height="18" fill="#c0c0c0" />
<rect x="307" y="677" width="1" height="16" fill="#c0c0c0" />
<rect x="315" y="677" width="1" height="16" fill="#c0c0c0" />
<rect x="323" y="677" width="1" height="14" fill="#c0c0c0" />
<rect x="331" y="677" width="1" height="16" fill="#c0c0c0" />
<rect x="339" y="677" width="1" height="17" fill="#c0c0c0" />
<rect x="347" y="677" width="1" height="23" fill="#c0c0c0" />
<rect x="355" y="677" width="1" height="26" fill="#c0c0c0" />
<rect x="363" y="677" width="1" height="30" fill="#c0c0c0" />
<rect x="371" y="677" width="1" height="34" fill="#c0c0c0" />
<rect x="379" y="677" width="1" height="36" fill="#c0c0c0" />
<rect x="387" y="677" width="1" height="37" fill="#c0c0c0" />
<rect x="395" y="677" width="1" height="38" fill="#c0c0c0" />
<rect x="403" y="677" width="1" height="37" fill="#c0c0c0" />
<rect x="411" y="677" width="1" height="33" fill="#c0c0c0" />
<rect x="419" y="677" width="1" height="30" fill="#c0c0c0" />
<rect x="427" y="677" width="1" height="30" fill="#c0c0c0" />
<rect x="435" y="677" width="1" height="31" fill="#c0c0c0" />
<rect x="443" y="677" width="1" height="31" fill="#c0c0c0" />
<rect x="451" y="677" width="1" height="35" fill="#c0c0c0" />
<rect x="459" y="677" width="1" height="39" fill="#c0c0c0" />
<rect x="467" y="677" width="1" height="41" fill="#c0c0c0" />
<rect x="475" y="677" width="1" height="41" fill="#c0c0c0" />
<rect x="483" y="677" width="1" height="37" fill="#c0c0c0" />
<rect x="491" y="677" width="1" height="36" fill="#c0c0c0" />
<rect x="499" y="677" width="1" height="39" fill="#c0c0c0" />
<rect x="507" y="677" width="1" height="42" fill="#c0c0c0" />
<rect x="515" y="677" width="1" height="46" fill="#c0c0c0" />
<rect x="523" y="677" width="1" height="54" fill="#c0c0c0" />
<rect x="531" y="677" width="1" height="59" fill="#c0c0c0" />
<rect x="539" y="677" width="1" height="65" fill="#c0c0c0" />
<rect x="547" y="677" width="1" height="64" fill="#c0c0c0" />
<rect x="555" y="677" width="1" height="60" fill="#c0c0c0" />
<rect x="563" y="677" width="1" height="57" fill="#c0c0c0" />
<rect x="571" y="677" width="1" height="52" fill="#c0c0c0" />
<rect x="579" y="677" width="1" height="47" fill="#c0c0c0" />
<rect x="587" y="677" width="1" height="44" fill="#c0c0c0" />
<rect x="595" y="677" width="1" height="46" fill="#c0c0c0" />
<rect x="603" y="677" width="1" height="48" fill="#c0c0c0" />
<rect x="611" y="677" width="1" height="49" fill="#c0c0c0" />
<rect x="619" y="677" width="1" height="48" fill="#c0c0c0" />
<rect x="627" y="677" width="1" height="46" fill="#c0c0c0" />
<rect x="635" y="677" width="1" height="43" fill="#c0c0c0" />
<rect x="643" y="677" width="1" height="37" fill="#c0c0c0" />
<rect x="651" y="677" width="1" height="37" fill="#c0c0c0" />
<rect x="659" y="677" width="1" height="37" fill="#c0c0c0" />
<rect x="667" y="677" width="1" height="37" fill="#c0c0c0" />
<rect x="675" y="677" width="1" height="30" fill="#c0c0c0" />
<rect x="683" y="677" width="1" height="22" fill="#c0c0c0" />
<rect x="691" y="677" width="1" height="13" fill="#c0c0c0" />
<rect x="699" y="677" width="1" height="3" fill="#c0c0c0" />
<rect x="707" y="676" width="1" height="2" fill="#c0c0c0" />
<rect x="715" y="671" width="1" height="7" fill="#c0c0c0" />
<rect x="723" y="671" width="1" height="7" fill="#c0c0c0" />
<rect x="731" y="676" width="1" height="2" fill="#c0c0c0" />
<rect x="739" y="677" width="1" height="1" fill="#c0c0c0" />
<rect x="747" y="677" width="1" height="3" fill="#c0c0c0" />
<rect x="755" y="677" width="1" height="3" fill="#c0c0c0" />
<rect x="763" y="677" width="1" height="1" fill="#c0c0c0" />
<rect x="771" y="677" width="1" height="3" fill="#c0c0c0" />
<rect x="779" y="677" width="1" height="5" fill="#c0c0c0" />
<rect x="787" y="677" width="1" height="1" fill="#c0c0c0" />
<rect x="795" y="675" width="1" height="3" fill="#c0c0c0" />
<rect x="803" y="674" width="1" height="4" fill="#c0c0c0" />
<rect x="811" y="670" width="1" height="8" fill="#c0c0c0" />
<rect x="819" y="671" width="1" height="7" fill="#c0c0c0" />
<rect x="827" y="677" width="1" height="1" fill="#c0c0c0" />
<rect x="835" y="677" width="1" height="5" fill="#c0c0c0" />
<rect x="843" y="677" width="1" height="9" fill="#c0c0c0" />
<rect x="851" y="677" width="1" height="12" fill="#c0c0c0" />
<rect x="859" y="677" width="1" height="13" fill="#c0c0c0" />
<rect x="867" y="677" width="1" height="14" fill="#c0c0c0" />
<rect x="875" y="677" width="1" height="18" fill="#c0c0c0" />
<rect x="883" y="677" width="1" height="29" fill="#c0c0c0" />
<rect x="891" y="677" width="1" height="39" fill="#c0c0c0" />
<rect x="899" y="677" width="1" height="46" fill="#c0c0c0" />
<rect x="907" y="677" width="1" height="47" fill="#c0c0c0" />
<rect x="915" y="677" width="1" height="46" fill="#c0c0c0" />
<rect x="923" y="677" width="1" height="47" fill="#c0c0c0" />
<rect x="931" y="677" width="1" height="41" fill="#c0c0c0" />
<rect x="939" y="677" width="1" height="36" fill="#c0c0c0" />
<rect x="947" y="677" width="1" height="32" fill="#c0c0c0" />
<rect x="955" y="677" width="1" height="30" fill="#c0c0c0" />
<rect x="963" y="677" width="1" height="30" fill="#c0c0c0" />
<rect x="971" y="677" width="1" height="20" fill="#c0c0c0" />
<rect x="979" y="677" width="1" height="9" fill="#c0c0c0" />
<rect x="987" y="677" width="1" height="3" fill="#c0c0c0" />
<rect x="995" y="674" width="1" height="4" fill="#c0c0c0" />
<rect x="1003" y="671" width="1" height="7" fill="#c0c0c0" />
<rect x="1011" y="668" width="1" height="10" fill="#c0c0c0" />
<rect x="1019" y="661" width="1" height="17" fill="#c0c0c0" />
<rect x="1027" y="657" width="1" height="21" fill="#c0c0c0" />
<rect x="1035" y="653" width="1" height="25" fill="#c0c0c0" />
<rect x="1043" y="650" width="1" height="28" fill="#c0c0c0" />
<rect x="1051" y="652" width="1" height="26" fill="#c0c0c0" />
<rect x="1059" y="654" width="1" height="24" fill="#c0c0c0" />
<rect x="1067" y="654" width="1" height="24" fill="#c0c0c0" />
<rect x="1075" y="651" width="1" height="27" fill="#c0c0c0" />
<rect x="1083" y="650" width="1" height="28" fill="#c0c0c0" />
<rect x="1091" y="650" width="1" height="28" fill="#c0c0c0" />
<rect x="1099" y="654" width="1" height="24" fill="#c0c0c0" />
<rect x="1107" y="664" width="1" height="14" fill="#c0c0c0" />
<rect x="1115" y="670" width="1" height="8" fill="#c0c0c0" />
<rect x="1123" y="672" width="1" height="6" fill="#c0c0c0" />
<rect x="1131" y="670" width="1" height="8" fill="#c0c0c0" />
<rect x="1139" y="668" width="1" height="10" fill="#c0c0c0" />
<rect x="1147" y="666" width="1" height="12" fill="#c0c0c0" />
<rect x="1155" y="662" width="1" height="16" fill="#c0c0c0" />
<rect x="1163" y="658" width="1" height="20" fill="#c0c0c0" />
<rect x="1171" y="652" width="1" height="26" fill="#c0c0c0" />
<rect x="1179" y="649" width="1" height="29" fill="#c0c0c0" />
<rect x="1187" y="646" width="1" height="32" fill="#c0c0c0" />
<rect x="1195" y="646" width="1" height="32" fill="#c0c0c0" />
<rect x="1203" y="649" width="1" height="29" fill="#c0c0c0" />
<rect x="1211" y="649" width="1" height="29" fill="#c0c0c0" />
<rect x="1219" y="650" width="1" height="28" fill="#c0c0c0" />
<rect x="1227" y="649" width="1" height="29" fill="#c0c0c0" />
<rect x="1235" y="652" width="1" height="26" fill="#c0c0c0" />
<rect x="1243" y="651" width="1" height="27" fill="#c0c0c0" />
<rect x="1251" y="645" width="1" height="33" fill="#c0c0c0" />
<rect x="1259" y="641" width="1" height="37" fill="#c0c0c0" />
<rect x="1267" y="634" width="1" height="44" fill="#c0c0c0" />
<rect x="1275" y="633" width="1" height="45" fill="#c0c0c0" />
<rect x="1283" y="633" width="1" height="45" fill="#c0c0c0" />
<rect x="1291" y="634" width="1" height="44" fill="#c0c0c0" />
<rect x="1299" y="633" width="1" height="45" fill="#c0c0c0" />
<rect x="1307" y="627" width="1" height="51" fill="#c0c0c0" />
<rect x="1315" y="627" width="1" height="51" fill="#c0c0c0" />
<rect x="1323" y="629" width="1" height="49" fill="#c0c0c0" />
<rect x="1331" y="635" width="1" height="43" fill="#c0c0c0" />
<rect x="1339" y="640" width="1" height="38" fill="#c0c0c0" />
<rect x="1347" y="642" width="1" height="36" fill="#c0c0c0" />
<rect x="1355" y="643" width="1" height="35" fill="#c0c0c0" />
<rect x="1363" y="641" width="1" height="37" fill="#c0c0c0" />
<rect x="1371" y="638" width="1" height="40" fill="#c0c0c0" />
<rect x="1379" y="637" width="1" height="41" fill="#c0c0c0" />
</g>
<polyline points="0.0,611.2 11.4,607.4 22.9,603.2 38.1,597.9 53.3,596.0 68.6,595.4 85.7,597.3 99.0,601.7 114.3,611.2 133.3,625.5 152.4,642.7 171.4,658.9 190.5,673.1 209.5,684.2 224.8,689.3 240.0,690.7 255.2,688.8 270.5,687.0 285.7,687.4 299.5,688.8 307.4,688.8 315.4,689.7 323.4,691.2 331.4,692.6 339.4,693.5 347.4,694.5 355.4,695.6 363.4,696.6 371.4,699.4 379.4,701.7 387.4,703.6 395.4,706.1 403.4,708.8 411.4,710.3 419.4,710.7 427.4,711.4 435.4,711.4 443.4,711.4 451.4,711.4 459.4,711.4 467.4,711.4 475.4,712.4 483.4,712.6 491.4,712.4 499.4,713.5 507.4,714.7 515.4,716.4 523.4,718.5 531.4,721.3 539.4,723.2 547.4,726.5 555.4,729.0 563.4,731.6 571.4,733.3 579.4,733.5 587.4,733.3 595.4,732.6 601.5,731.2 611.0,729.3 619.4,727.4 627.4,726.1 635.4,724.6 643.4,722.3 651.4,721.3 659.4,721.3 667.4,720.4 675.4,717.9 683.4,714.7 691.4,711.2 699.4,706.5 707.4,700.8 715.4,696.6 723.4,691.8 731.4,687.0 739.4,683.2 747.4,680.4 755.4,678.9 763.4,677.5 771.4,676.4 779.4,677.9 787.4,678.3 795.4,679.4 803.4,678.5 811.4,677.3 819.4,676.6 827.4,675.4 835.4,676.4 843.4,677.5 851.4,677.5 859.4,679.4 867.4,680.4 875.4,683.6 883.4,686.5 890.1,691.2 891.4,692.2 899.4,697.9 907.4,701.7 915.4,705.9 923.4,709.9 931.4,713.5 939.4,716.4 947.4,717.5 955.4,718.3 963.4,717.3 971.4,714.1 979.4,710.3 987.4,705.5 995.4,699.8 1003.4,695.0 1011.4,689.3 1019.4,683.0 1027.4,677.0 1035.4,670.7 1043.4,665.5 1051.4,661.7 1059.4,659.2 1067.4,657.5 1075.4,654.1 1083.4,652.8 1091.4,651.6 1099.4,651.6 1107.4,652.8 1115.4,654.7 1123.4,657.3 1131.4,658.5 1139.4,660.2 1147.4,662.3 1155.4,663.6 1163.4,664.6 1171.4,664.2 1179.4,662.1 1187.4,659.4 1195.4,656.0 1203.4,653.7 1211.4,651.8 1219.4,649.9 1227.4,649.3 1235.4,648.4 1243.4,648.0 1251.4,647.4 1259.4,647.0 1267.4,646.5 1275.4,643.6 1283.4,642.3 1291.4,639.8 1299.4,638.9 1307.4,637.0 1315.4,633.1 1323.4,631.2 1331.4,631.2 1339.4,631.2 1347.4,632.4 1355.4,632.8 1363.4,633.7 1371.4,634.7 1379.4,635.4" fill="none" stroke="#ff0000" stroke-width="1" stroke-dasharray="3,3" shape-rendering="crispEdges"/>
<line x1="1302" y1="638.3" x2="1394.8" y2="635.663" stroke="#ff0000" stroke-width="3" stroke-linecap="butt"/><polygon points="1396.2,635.6 1386.0,631.4 1386.3,640.4" fill="#ff0000" stroke="#ff0000" stroke-width="1.4" stroke-linejoin="round"/>
</g>
<text x="-7.4" y="592.8" font-size="9.33" fill="#000" text-anchor="start" textLength="146.1" lengthAdjust="spacing">MACD(12,26,9) 0.001810 0.001793</text>
<g clip-path="url(#c3)">
<line x1="0" y1="788.5" x2="1646" y2="788.5" stroke="#c0c0c0" stroke-width="1" stroke-dasharray="3,3" shape-rendering="crispEdges"/>
<line x1="0" y1="839.5" x2="1646" y2="839.5" stroke="#c0c0c0" stroke-width="1" stroke-dasharray="3,3" shape-rendering="crispEdges"/>
<line x1="0" y1="900.5" x2="1646" y2="900.5" stroke="#c0c0c0" stroke-width="1" stroke-dasharray="3,3" shape-rendering="crispEdges"/>
<polyline points="-4.5,791.5 3.5,786.2 11.5,785.2 19.5,784.3 27.5,780.1 35.5,796.1 43.5,801.8 51.5,806.4 59.5,803.3 67.5,807.1 75.5,807.3 83.5,807.3 91.5,805.2 99.5,821.4 107.5,843.9 115.5,845.6 123.5,850.4 131.5,849.4 139.5,847.5 147.5,862.4 155.5,851.9 163.5,856.3 171.5,856.3 179.5,860.1 187.5,864.3 195.5,846.6 203.5,841.4 211.5,843.3 219.5,851.3 227.5,851.3 235.5,838.6 243.5,829.0 251.5,829.0 259.5,851.3 267.5,852.5 275.5,851.3 283.5,857.6 291.5,854.2 299.5,858.6 307.5,843.3 315.5,846.2 323.5,846.2 331.5,855.1 339.5,856.3 347.5,867.1 355.5,863.3 363.5,870.4 371.5,872.5 379.5,867.5 387.5,867.5 395.5,869.4 403.5,863.7 411.5,853.8 419.5,845.2 427.5,857.6 435.5,863.3 443.5,857.6 451.5,874.2 459.5,867.5 467.5,868.5 475.5,865.2 483.5,847.7 491.5,852.3 499.5,867.5 507.5,869.4 515.5,872.5 523.5,882.4 531.5,878.6 539.5,882.0 547.5,865.2 555.5,855.3 563.5,856.3 571.5,851.9 579.5,850.0 587.5,853.4 595.5,864.3 603.5,866.2 611.5,868.5 619.5,859.9 627.5,858.2 635.5,852.3 643.5,844.3 651.5,855.1 659.5,859.5 667.5,855.1 675.5,838.6 683.5,830.6 691.5,823.0 699.5,820.1 707.5,824.3 715.5,823.3 723.5,835.7 731.5,851.3 739.5,847.5 747.5,847.1 755.5,842.8 763.5,835.3 771.5,843.7 779.5,848.5 787.5,832.5 795.5,829.4 803.5,835.3 811.5,827.5 819.5,839.5 827.5,848.7 835.5,855.3 843.5,853.4 851.5,851.3 859.5,848.5 867.5,848.5 875.5,856.7 883.5,871.0 891.5,875.2 899.5,872.5 907.5,857.6 915.5,854.2 923.5,860.1 931.5,843.3 939.5,844.7 947.5,842.4 955.5,847.5 963.5,853.4 971.5,828.7 979.5,825.6 987.5,827.5 995.5,824.3 1003.5,830.6 1011.5,829.4 1019.5,820.5 1027.5,823.3 1035.5,821.4 1043.5,821.4 1051.5,833.2 1059.5,833.2 1067.5,828.7 1075.5,821.4 1083.5,826.6 1091.5,826.6 1099.5,838.2 1107.5,854.4 1115.5,847.7 1123.5,841.8 1131.5,833.4 1139.5,830.4 1147.5,829.0 1155.5,825.2 1163.5,821.0 1171.5,814.4 1179.5,819.1 1187.5,818.2 1195.5,825.2 1203.5,832.3 1211.5,827.1 1219.5,825.2 1227.5,823.3 1235.5,835.3 1243.5,824.3 1251.5,814.4 1259.5,814.4 1267.5,806.2 1275.5,821.4 1283.5,819.5 1291.5,826.2 1299.5,819.9 1307.5,809.4 1315.5,820.5 1323.5,826.2 1331.5,835.3 1339.5,833.8 1347.5,829.0 1355.5,826.6 1363.5,822.0 1371.5,818.2 1379.5,817.6" fill="none" stroke="#1e90ff" stroke-width="1" shape-rendering="crispEdges"/>
<line x1="1325" y1="836.7" x2="1388.66" y2="810.828" stroke="#ff0000" stroke-width="3.2" stroke-linecap="butt"/><polygon points="1390.0,810.3 1379.0,809.9 1382.3,818.2" fill="#ff0000" stroke="#ff0000" stroke-width="1.4" stroke-linejoin="round"/>
</g>
<text x="-8.8" y="764.8" font-size="9.33" fill="#000" text-anchor="start" textLength="67.5" lengthAdjust="spacing">RSI(14) 62.4280</text>
<g shape-rendering="crispEdges">
<rect x="0" y="20" width="1693" height="1" fill="#f6f6f6" />
<rect x="0" y="21" width="1693" height="1" fill="#b4b4b4" />
<rect x="0" y="22" width="1693" height="1" fill="#646464" />
<rect x="0" y="23" width="1693" height="2" fill="#ffffff" />
<rect x="0" y="25" width="1647" height="1" fill="#000" />
<rect x="1646" y="25" width="1" height="554" fill="#000" />
<rect x="1646" y="580" width="1" height="171" fill="#000" />
<rect x="1646" y="752" width="1" height="175" fill="#000" />
<rect x="0" y="578" width="1647" height="1" fill="#000" />
<rect x="0" y="579" width="1647" height="1" fill="#fff" />
<rect x="0" y="580" width="1647" height="1" fill="#000" />
<rect x="0" y="750" width="1647" height="1" fill="#000" />
<rect x="0" y="751" width="1647" height="1" fill="#fff" />
<rect x="0" y="752" width="1647" height="1" fill="#000" />
<rect x="0" y="926" width="1647" height="1" fill="#000" />
<rect x="1692" y="23" width="1" height="922" fill="#d0d0d0" />
<rect x="1647" y="47" width="2" height="1" fill="#000" />
<rect x="1647" y="80" width="2" height="1" fill="#000" />
<rect x="1647" y="113" width="2" height="1" fill="#000" />
<rect x="1647" y="146" width="2" height="1" fill="#000" />
<rect x="1647" y="179" width="2" height="1" fill="#000" />
<rect x="1647" y="212" width="2" height="1" fill="#000" />
<rect x="1647" y="245" width="2" height="1" fill="#000" />
<rect x="1647" y="278" width="2" height="1" fill="#000" />
<rect x="1647" y="311" width="2" height="1" fill="#000" />
<rect x="1647" y="344" width="2" height="1" fill="#000" />
<rect x="1647" y="377" width="2" height="1" fill="#000" />
<rect x="1647" y="410" width="2" height="1" fill="#000" />
<rect x="1647" y="443" width="2" height="1" fill="#000" />
<rect x="1647" y="476" width="2" height="1" fill="#000" />
<rect x="1647" y="509" width="2" height="1" fill="#000" />
<rect x="1647" y="542" width="2" height="1" fill="#000" />
<rect x="1647" y="575" width="2" height="1" fill="#000" />
<rect x="1647" y="582" width="2" height="1" fill="#000" />
<rect x="1647" y="677" width="2" height="1" fill="#000" />
<rect x="1647" y="747" width="2" height="1" fill="#000" />
<rect x="1647" y="755" width="2" height="1" fill="#000" />
<rect x="1647" y="788" width="2" height="1" fill="#000" />
<rect x="1647" y="839" width="2" height="1" fill="#000" />
<rect x="1647" y="900" width="2" height="1" fill="#000" />
<rect x="1647" y="923" width="2" height="1" fill="#000" />
<rect x="51" y="927" width="1" height="4" fill="#000" />
<rect x="115" y="927" width="1" height="4" fill="#000" />
<rect x="179" y="927" width="1" height="4" fill="#000" />
<rect x="243" y="927" width="1" height="4" fill="#000" />
<rect x="307" y="927" width="1" height="4" fill="#000" />
<rect x="371" y="927" width="1" height="4" fill="#000" />
<rect x="435" y="927" width="1" height="4" fill="#000" />
<rect x="499" y="927" width="1" height="4" fill="#000" />
<rect x="563" y="927" width="1" height="4" fill="#000" />
<rect x="627" y="927" width="1" height="4" fill="#000" />
<rect x="691" y="927" width="1" height="4" fill="#000" />
<rect x="755" y="927" width="1" height="4" fill="#000" />
<rect x="819" y="927" width="1" height="4" fill="#000" />
<rect x="883" y="927" width="1" height="4" fill="#000" />
<rect x="947" y="927" width="1" height="4" fill="#000" />
<rect x="1011" y="927" width="1" height="4" fill="#000" />
<rect x="1075" y="927" width="1" height="4" fill="#000" />
<rect x="1139" y="927" width="1" height="4" fill="#000" />
<rect x="1203" y="927" width="1" height="4" fill="#000" />
<rect x="1267" y="927" width="1" height="4" fill="#000" />
<rect x="1331" y="927" width="1" height="4" fill="#000" />
</g>
<text x="1652" y="50.5" font-size="9.33" fill="#000" text-anchor="start" textLength="32.6" lengthAdjust="spacing">0.74805</text>
<text x="1652" y="83.5" font-size="9.33" fill="#000" text-anchor="start" textLength="32.6" lengthAdjust="spacing">0.74605</text>
<text x="1652" y="116.5" font-size="9.33" fill="#000" text-anchor="start" textLength="32.6" lengthAdjust="spacing">0.74410</text>
<text x="1652" y="149.5" font-size="9.33" fill="#000" text-anchor="start" textLength="32.6" lengthAdjust="spacing">0.74210</text>
<text x="1652" y="182.5" font-size="9.33" fill="#000" text-anchor="start" textLength="32.6" lengthAdjust="spacing">0.74010</text>
<text x="1652" y="215.5" font-size="9.33" fill="#000" text-anchor="start" textLength="32.6" lengthAdjust="spacing">0.73810</text>
<text x="1652" y="248.5" font-size="9.33" fill="#000" text-anchor="start" textLength="32.6" lengthAdjust="spacing">0.73615</text>
<text x="1652" y="281.5" font-size="9.33" fill="#000" text-anchor="start" textLength="32.6" lengthAdjust="spacing">0.73415</text>
<text x="1652" y="314.5" font-size="9.33" fill="#000" text-anchor="start" textLength="32.6" lengthAdjust="spacing">0.73215</text>
<text x="1652" y="347.5" font-size="9.33" fill="#000" text-anchor="start" textLength="32.6" lengthAdjust="spacing">0.73015</text>
<text x="1652" y="380.5" font-size="9.33" fill="#000" text-anchor="start" textLength="32.6" lengthAdjust="spacing">0.72820</text>
<text x="1652" y="413.5" font-size="9.33" fill="#000" text-anchor="start" textLength="32.6" lengthAdjust="spacing">0.72620</text>
<text x="1652" y="446.5" font-size="9.33" fill="#000" text-anchor="start" textLength="32.6" lengthAdjust="spacing">0.72420</text>
<text x="1652" y="479.5" font-size="9.33" fill="#000" text-anchor="start" textLength="32.6" lengthAdjust="spacing">0.72220</text>
<text x="1652" y="512.5" font-size="9.33" fill="#000" text-anchor="start" textLength="32.6" lengthAdjust="spacing">0.72020</text>
<text x="1652" y="545.5" font-size="9.33" fill="#000" text-anchor="start" textLength="32.6" lengthAdjust="spacing">0.71825</text>
<text x="1652" y="578.5" font-size="9.33" fill="#000" text-anchor="start" textLength="32.6" lengthAdjust="spacing">0.71625</text>
<rect x="1648" y="158" width="41" height="11" fill="#ff0000" shape-rendering="crispEdges"/>
<text x="1652" y="166.5" font-size="9.33" fill="#fff" text-anchor="start" textLength="32.6" lengthAdjust="spacing">0.74100</text>
<rect x="1648" y="186" width="41" height="11" fill="#ff0000" shape-rendering="crispEdges"/>
<text x="1652" y="194.5" font-size="9.33" fill="#fff" text-anchor="start" textLength="32.6" lengthAdjust="spacing">0.73932</text>
<rect x="1648" y="213" width="41" height="11" fill="#000000" shape-rendering="crispEdges"/>
<text x="1652" y="221.5" font-size="9.33" fill="#fff" text-anchor="start" textLength="32.6" lengthAdjust="spacing">0.73776</text>
<rect x="1648" y="225" width="41" height="11" fill="#ffa500" shape-rendering="crispEdges"/>
<text x="1652" y="233.5" font-size="9.33" fill="#fff" text-anchor="start" textLength="32.6" lengthAdjust="spacing">0.73697</text>
<rect x="1648" y="251" width="41" height="11" fill="#0000ff" shape-rendering="crispEdges"/>
<text x="1652" y="259.5" font-size="9.33" fill="#fff" text-anchor="start" textLength="32.6" lengthAdjust="spacing">0.73541</text>
<rect x="1648" y="278" width="41" height="11" fill="#0000ff" shape-rendering="crispEdges"/>
<text x="1652" y="286.5" font-size="9.33" fill="#fff" text-anchor="start" textLength="32.6" lengthAdjust="spacing">0.73378</text>
<rect x="1646" y="213" width="2" height="5" fill="#000" shape-rendering="crispEdges"/>
<text x="1650.5" y="591.2" font-size="9.33" fill="#000" text-anchor="start" textLength="37.8" lengthAdjust="spacing">0.004124</text>
<text x="1650.5" y="681.3" font-size="9.33" fill="#000" text-anchor="start" textLength="17.5" lengthAdjust="spacing">0.00</text>
<text x="1650.5" y="747.2" font-size="9.33" fill="#000" text-anchor="start" textLength="40.6" lengthAdjust="spacing">-0.003097</text>
<text x="1650.5" y="763.2" font-size="9.33" fill="#000" text-anchor="start" >100</text>
<text x="1650.5" y="792.1" font-size="9.33" fill="#000" text-anchor="start" >80</text>
<text x="1650.5" y="842.7" font-size="9.33" fill="#000" text-anchor="start" >50</text>
<text x="1650.5" y="903.9" font-size="9.33" fill="#000" text-anchor="start" >15</text>
<text x="1650.5" y="922.7" font-size="9.33" fill="#000" text-anchor="start" >0</text>
<text x="-14.5" y="938.9" font-size="9.33" fill="#000" text-anchor="start" word-spacing="0.5">3 Sep 2021</text>
<text x="49.5" y="938.9" font-size="9.33" fill="#000" text-anchor="start" word-spacing="0.5">6 Sep 04:00</text>
<text x="113.5" y="938.9" font-size="9.33" fill="#000" text-anchor="start" word-spacing="0.5">7 Sep 12:00</text>
<text x="177.5" y="938.9" font-size="9.33" fill="#000" text-anchor="start" word-spacing="0.5">8 Sep 20:00</text>
<text x="241.5" y="938.9" font-size="9.33" fill="#000" text-anchor="start" word-spacing="0.5">10 Sep 04:00</text>
<text x="305.5" y="938.9" font-size="9.33" fill="#000" text-anchor="start" word-spacing="0.5">13 Sep 12:00</text>
<text x="369.5" y="938.9" font-size="9.33" fill="#000" text-anchor="start" word-spacing="0.5">14 Sep 20:00</text>
<text x="433.5" y="938.9" font-size="9.33" fill="#000" text-anchor="start" word-spacing="0.5">16 Sep 04:00</text>
<text x="497.5" y="938.9" font-size="9.33" fill="#000" text-anchor="start" word-spacing="0.5">17 Sep 12:00</text>
<text x="561.5" y="938.9" font-size="9.33" fill="#000" text-anchor="start" word-spacing="0.5">20 Sep 20:00</text>
<text x="625.5" y="938.9" font-size="9.33" fill="#000" text-anchor="start" word-spacing="0.5">22 Sep 04:00</text>
<text x="689.5" y="938.9" font-size="9.33" fill="#000" text-anchor="start" word-spacing="0.5">23 Sep 12:00</text>
<text x="753.5" y="938.9" font-size="9.33" fill="#000" text-anchor="start" word-spacing="0.5">26 Sep 23:00</text>
<text x="817.5" y="938.9" font-size="9.33" fill="#000" text-anchor="start" word-spacing="0.5">28 Sep 04:00</text>
<text x="881.5" y="938.9" font-size="9.33" fill="#000" text-anchor="start" word-spacing="0.5">29 Sep 12:00</text>
<text x="945.5" y="938.9" font-size="9.33" fill="#000" text-anchor="start" word-spacing="0.5">30 Sep 20:00</text>
<text x="1009.5" y="938.9" font-size="9.33" fill="#000" text-anchor="start" word-spacing="0.5">4 Oct 04:00</text>
<text x="1073.5" y="938.9" font-size="9.33" fill="#000" text-anchor="start" word-spacing="0.5">5 Oct 12:00</text>
<text x="1137.5" y="938.9" font-size="9.33" fill="#000" text-anchor="start" word-spacing="0.5">6 Oct 20:00</text>
<text x="1201.5" y="938.9" font-size="9.33" fill="#000" text-anchor="start" word-spacing="0.5">8 Oct 04:00</text>
<text x="1265.5" y="938.9" font-size="9.33" fill="#000" text-anchor="start" word-spacing="0.5">11 Oct 12:00</text>
<text x="1329.5" y="938.9" font-size="9.33" fill="#000" text-anchor="start" word-spacing="0.5">12 Oct 20:00</text>
</svg>
<svg width="1693" height="24" viewBox="0 0 1693 24" style="position:absolute;left:0;top:0" font-family="Liberation Sans, sans-serif">
<rect x="0" y="0" width="1693" height="20" fill="#f0f0f0" /><rect x="0" y="20" width="1693" height="1" fill="#f6f6f6" />
<rect x="7" y="1" width="1" height="18" fill="#a0a0a0" shape-rendering="crispEdges"/><rect x="8" y="1" width="1" height="18" fill="#fafafa" shape-rendering="crispEdges"/>
<path d="M17.500 2.500h7.500l4 4v8h-11.500z" fill="#fff" stroke="#707070" stroke-width="1"/><path d="M25 2.500v4h4" fill="none" stroke="#808080" stroke-width="0.800"/>
<path d="M19.5 5h4M19.5 7.500h6M19.5 10h3" stroke="#9a9a9a" stroke-width="1"/>
<path d="M27 7.500v11M21.500 13h11" stroke="#1a9a1a" stroke-width="4.400"/>
<path d="M27 8.500v9M22.500 13h9" stroke="#3fdc3f" stroke-width="2.200"/>
<text x="35.700" y="12.600" font-size="12" fill="#000" text-anchor="start" textLength="36" lengthAdjust="spacing" style="font-family:'Liberation Sans','Noto Sans CJK SC',sans-serif">新订单</text>
<defs><linearGradient id="gbk" x1="0" y1="0" x2="1" y2="1"><stop offset="0" stop-color="#fae880"/><stop offset="0.500" stop-color="#e8b828"/><stop offset="1" stop-color="#b88010"/></linearGradient><linearGradient id="gcl" x1="0" y1="0" x2="0" y2="1"><stop offset="0" stop-color="#ffffff"/><stop offset="1" stop-color="#c4d0e8"/></linearGradient></defs>
<path d="M84 11.300L92 16.700L99.900 10.600L99.800 9L92 14.400L84.200 9.800z" fill="#9a6410"/>
<path d="M84.600 11.200L92 15.700L99.300 10.300" stroke="#f0d890" stroke-width="0.700" fill="none"/>
<polygon points="84,10.600 90.100,2.300 99.800,9.400 92.100,14.400" fill="url(#gbk)" stroke="#a87410" stroke-width="0.800"/>
<polygon points="114.100,2.600 118,1.300 118,9.300 114.100,9.300" fill="#30a4ff"/>
<polygon points="118,1.300 124.800,2.400 124.800,9.300 118,9.300" fill="#1c74dc"/>
<path d="M119.500 5.600l4-.7M119.500 7.400l2.500-.4" stroke="#d8ecff" stroke-width="0.900"/>
<path d="M114.800 16.600a2.800 2.800 0 0 1 -.4-5.500a3.200 3.200 0 0 1 5.600-1.600a3.300 3.300 0 0 1 5.200 1.700a2.800 2.800 0 0 1 -.2 5.400z" fill="url(#gcl)" stroke="#5474b0" stroke-width="1"/>
<path d="M148 1.200a7.600 7.600 0 0 1 0 15.200z" fill="#b8dcb8" opacity="0.75"/>
<path d="M148 4.300a4.500 4.500 0 0 1 0 9z" fill="#8cc88c" opacity="0.8"/>
<path d="M148 1.200a7.600 7.600 0 0 0 0 15.200" fill="none" stroke="#a8bce8" stroke-width="1.100"/>
<path d="M148 4.300a4.500 4.500 0 0 0 0 9" fill="none" stroke="#6c94dc" stroke-width="1.200"/>
<path d="M148 1.200a7.600 7.600 0 0 1 0 15.200" fill="none" stroke="#7cb47c" stroke-width="1.100"/>
<circle cx="147.900" cy="8.800" r="1.900" fill="#2450c8"/>
<path d="M148.400 9v7.600" stroke="#12a022" stroke-width="1.700"/>
<defs><linearGradient id="gfn" x1="0" y1="0" x2="1" y2="0"><stop offset="0" stop-color="#fff08c"/><stop offset="1" stop-color="#e0a818"/></linearGradient></defs>
<polygon points="168.200,8 182.600,8 176.600,16.600 174.800,16.600" fill="url(#gfn)" stroke="#c09418" stroke-width="0.700"/>
<ellipse cx="175.200" cy="6.300" rx="7.800" ry="2.500" fill="#3c98d8" stroke="#2474b4" stroke-width="0.700"/>
<path d="M171.200 5.800C171.200 0 179 0 179 5.800z" fill="#62b4ec" stroke="#2c80c0" stroke-width="0.600"/>
<path d="M171.200 5.600C173 7 177.200 7 179 5.600" fill="none" stroke="#2474b4" stroke-width="0.700"/>
<circle cx="179.400" cy="12.700" r="4.200" fill="#dc2010"/>
<rect x="177.900" y="11.200" width="3" height="3" fill="#fff"/>
<text x="188.600" y="12.600" font-size="11.700" fill="#000" text-anchor="start" textLength="46.800" lengthAdjust="spacing" style="font-family:'Liberation Sans','Noto Sans CJK SC',sans-serif">自动交易</text>
<rect x="243" y="1" width="1" height="18" fill="#a0a0a0" shape-rendering="crispEdges"/><rect x="244" y="1" width="1" height="18" fill="#fafafa" shape-rendering="crispEdges"/>
<rect x="246.500" y="2" width="3" height="1" fill="#a8a8a8" shape-rendering="crispEdges"/><rect x="246.500" y="4" width="3" height="1" fill="#a8a8a8" shape-rendering="crispEdges"/><rect x="246.500" y="6" width="3" height="1" fill="#a8a8a8" shape-rendering="crispEdges"/><rect x="246.500" y="8" width="3" height="1" fill="#a8a8a8" shape-rendering="crispEdges"/><rect x="246.500" y="10" width="3" height="1" fill="#a8a8a8" shape-rendering="crispEdges"/><rect x="246.500" y="12" width="3" height="1" fill="#a8a8a8" shape-rendering="crispEdges"/><rect x="246.500" y="14" width="3" height="1" fill="#a8a8a8" shape-rendering="crispEdges"/><rect x="246.500" y="16" width="3" height="1" fill="#a8a8a8" shape-rendering="crispEdges"/><rect x="246.500" y="18" width="3" height="1" fill="#a8a8a8" shape-rendering="crispEdges"/>
<path d="M261.500 3.200V16.800M259.000 14.400H272.500" stroke="#505050" stroke-width="1.200" fill="none"/><path d="M260.000 4.800000000000001L261.500 3.200L263.000 4.800000000000001M270.900 12.900L272.500 14.400L270.900 15.900" stroke="#505050" stroke-width="1" fill="none"/>
<path d="M268.500 4.500V12.500M268.500 5h2M266.500 11.500h2" stroke="#1c9a1c" stroke-width="1.500" fill="none"/>
<rect x="281" y="1" width="1" height="18" fill="#a0a0a0" shape-rendering="crispEdges"/><rect x="282" y="1" width="1" height="18" fill="#fafafa" shape-rendering="crispEdges"/>
<rect x="283" y="0" width="23.500" height="20" fill="#f8f8f8" />
<path d="M289.100 3.200V16.800M286.600 14.400H300.100" stroke="#505050" stroke-width="1.200" fill="none"/><path d="M287.600 4.800000000000001L289.100 3.200L290.600 4.800000000000001M298.500 12.900L300.100 14.400L298.500 15.900" stroke="#505050" stroke-width="1" fill="none"/>
<path d="M295.400 1v11.500" stroke="#0c8a0c" stroke-width="1.200"/><rect x="293" y="3.600" width="4.800" height="7" fill="#28d028" stroke="#0c8a0c" stroke-width="0.800"/>
<path d="M317.500 3.200V16.800M315.000 14.400H328.500" stroke="#505050" stroke-width="1.200" fill="none"/><path d="M316.000 4.800000000000001L317.500 3.200L319.000 4.800000000000001M326.900 12.900L328.500 14.400L326.900 15.900" stroke="#505050" stroke-width="1" fill="none"/>
<path d="M316 11.500C319 7 322 5 324 6.500S327 10 329.500 10.500" stroke="#2a9a2a" stroke-width="1.300" fill="none"/>
<rect x="338" y="1" width="1" height="18" fill="#a0a0a0" shape-rendering="crispEdges"/><rect x="339" y="1" width="1" height="18" fill="#fafafa" shape-rendering="crispEdges"/>
<path d="M356.600 11L362.40000000000003 16" stroke="#c8a020" stroke-width="3" stroke-linecap="round"/>
<circle cx="352.600" cy="6.900" r="5.200" fill="#d4e8fc" stroke="#3a7cc8" stroke-width="1.500"/>
<path d="M349.600 6.900h6" stroke="#2a6cc0" stroke-width="1.800"/>
<path d="M352.600 3.900v6" stroke="#2a6cc0" stroke-width="1.800"/>
<path d="M384.800 11L390.600 16" stroke="#c8a020" stroke-width="3" stroke-linecap="round"/>
<circle cx="380.800" cy="6.900" r="5.200" fill="#d4e8fc" stroke="#3a7cc8" stroke-width="1.500"/>
<path d="M377.800 6.900h6" stroke="#2a6cc0" stroke-width="1.800"/>
<rect x="403" y="1" width="7.800" height="7.800" fill="#48a828" /><rect x="411.200" y="1" width="7.800" height="7.800" fill="#2858d0" /><rect x="403" y="9.200" width="7.800" height="7.800" fill="#2858d0" /><rect x="411.200" y="9.200" width="7.800" height="7.800" fill="#48a828" />
<rect x="404.500" y="4" width="4.800" height="3" fill="#fff" /><rect x="404.500" y="5" width="4.800" height="0.800" fill="#9ab" />
<rect x="412.700" y="4" width="4.800" height="3" fill="#fff" /><rect x="412.700" y="5" width="4.800" height="0.800" fill="#9ab" />
<rect x="404.500" y="12.200" width="4.800" height="3" fill="#fff" /><rect x="404.500" y="13.200" width="4.800" height="0.800" fill="#9ab" />
<rect x="412.700" y="12.200" width="4.800" height="3" fill="#fff" /><rect x="412.700" y="13.200" width="4.800" height="0.800" fill="#9ab" />
<rect x="428" y="1" width="1" height="18" fill="#a0a0a0" shape-rendering="crispEdges"/><rect x="429" y="1" width="1" height="18" fill="#fafafa" shape-rendering="crispEdges"/>
<rect x="433.500" y="0" width="24.500" height="20" fill="#f8f8f8" />
<path d="M441.500 3V17M439.000 14.800H452.500" stroke="#505050" stroke-width="1.200" fill="none"/><path d="M440.000 4.600L441.500 3L443.000 4.600M450.900 13.300L452.500 14.800L450.900 16.300" stroke="#505050" stroke-width="1" fill="none"/>
<polygon points="446.300,5.300 446.300,11.300 450.300,8.300" fill="#58d858" stroke="#1c9a1c" stroke-width="1.100"/>
<rect x="460" y="1" width="1" height="18" fill="#a0a0a0" shape-rendering="crispEdges"/><rect x="461" y="1" width="1" height="18" fill="#fafafa" shape-rendering="crispEdges"/>
<rect x="462.500" y="0" width="24" height="20" fill="#f8f8f8" />
<path d="M469.300 3V17M466.800 14.800H480.300" stroke="#505050" stroke-width="1.200" fill="none"/><path d="M467.800 4.600L469.300 3L470.800 4.600M478.700 13.300L480.300 14.800L478.700 16.300" stroke="#505050" stroke-width="1" fill="none"/>
<path d="M475.600 3V12.500" stroke="#2868c0" stroke-width="1.300"/><path d="M481 8.300H477M478.800 6.300L476.800 8.300L478.800 10.300" stroke="#d84010" stroke-width="1.200" fill="none"/>
<rect x="490" y="1" width="1" height="18" fill="#a0a0a0" shape-rendering="crispEdges"/><rect x="491" y="1" width="1" height="18" fill="#fafafa" shape-rendering="crispEdges"/>
<path d="M501 2h7l3 3v9.500h-10z" fill="#fff" stroke="#8a8a8a" stroke-width="1"/><path d="M503.500 4.500v7" stroke="#707070" stroke-width="1"/>
<path d="M510 7v11.400M504.300 12.700h11.400" stroke="#1a9a1a" stroke-width="4.400"/>
<path d="M510 8v9.400M505.300 12.700h9.400" stroke="#3fdc3f" stroke-width="2.200"/>
<polygon points="521.800,7.900 527.300,7.900 524.550,10.900" fill="#000"/>
<circle cx="545.700" cy="8.900" r="6.900" fill="#fff" stroke="#1c60c8" stroke-width="2.200"/><path d="M545.700 4.500V9.200H549" stroke="#555" stroke-width="1.100" fill="none"/>
<polygon points="560.800,7.900 566.300,7.900 563.55,10.900" fill="#000"/>
<rect x="577.800" y="2.600" width="14.400" height="12.600" fill="#fff" stroke="#2c6cc8" stroke-width="1.400"/><rect x="577.800" y="2.600" width="14.400" height="2.400" fill="#4888e0"/>
<path d="M580 8.200l2.500-1 2.500.6 2.500-1.400 3-.2" stroke="#c03020" stroke-width="1.200" fill="none"/><path d="M580 13l2.500-1.200 2.200.8 2.400-1.800 3 1.400" stroke="#20a030" stroke-width="1.200" fill="none"/>
<polygon points="599.800,7.900 605.3,7.900 602.55,10.900" fill="#000"/>
<rect x="611" y="1" width="1" height="18" fill="#a0a0a0" shape-rendering="crispEdges"/><rect x="612" y="1" width="1" height="18" fill="#fafafa" shape-rendering="crispEdges"/>
<rect x="614.800" y="2" width="3" height="1" fill="#a8a8a8" shape-rendering="crispEdges"/><rect x="614.800" y="4" width="3" height="1" fill="#a8a8a8" shape-rendering="crispEdges"/><rect x="614.800" y="6" width="3" height="1" fill="#a8a8a8" shape-rendering="crispEdges"/><rect x="614.800" y="8" width="3" height="1" fill="#a8a8a8" shape-rendering="crispEdges"/><rect x="614.800" y="10" width="3" height="1" fill="#a8a8a8" shape-rendering="crispEdges"/><rect x="614.800" y="12" width="3" height="1" fill="#a8a8a8" shape-rendering="crispEdges"/><rect x="614.800" y="14" width="3" height="1" fill="#a8a8a8" shape-rendering="crispEdges"/><rect x="614.800" y="16" width="3" height="1" fill="#a8a8a8" shape-rendering="crispEdges"/><rect x="614.800" y="18" width="3" height="1" fill="#a8a8a8" shape-rendering="crispEdges"/>
<rect x="622" y="0" width="24.500" height="20" fill="#f8f8f8" />
<polygon points="629.5,2 629.5,14 632.400,11.400 634.600,16.200 636.400,15.400 634.300,10.700 638,10.400" fill="#404040"/>
<path d="M661.600 2v14.600M654.300 9.200h14.600" stroke="#505050" stroke-width="1"/>
<rect x="678" y="1" width="1" height="18" fill="#a0a0a0" shape-rendering="crispEdges"/><rect x="679" y="1" width="1" height="18" fill="#fafafa" shape-rendering="crispEdges"/>
<path d="M695.500 2.700V15.600" stroke="#505050" stroke-width="1.200"/>
<path d="M718 9.200H730" stroke="#505050" stroke-width="1.200"/>
<path d="M746 15.600L758 3.700" stroke="#505050" stroke-width="1.200"/>
<path d="M772 13.500L784 4M774 16L786 7M776 9.500v5M779.500 7v5M783 4.500v5" stroke="#505050" stroke-width="1" fill="none"/>
<text x="782.500" y="17.600" font-size="6.500" fill="#404040" text-anchor="start" font-weight="bold">E</text>
<path d="M800.500 2.500h13M800.500 6h13M800.500 9.500h13M800.500 13.500h9" stroke="#606060" stroke-width="1" stroke-dasharray="1,1"/>
<text x="810.200" y="17.600" font-size="6.500" fill="#404040" text-anchor="start" font-weight="bold">F</text>
<text x="835.700" y="13.700" font-size="11.500" fill="#606060" text-anchor="middle" font-weight="bold">A</text>
<rect x="858.500" y="3" width="11.500" height="12" fill="none" stroke="#606060" stroke-width="1" stroke-dasharray="1,1"/>
<text x="864.200" y="13.600" font-size="11" fill="#505050" text-anchor="middle" font-weight="bold">T</text>
<polygon points="885,6.500 888.500,3 892,6.500 888.500,8.500" fill="#505050"/><polygon points="892,13 895.500,10 899,13 895.500,16" fill="#505050"/><path d="M887 9.500l4 2.500" stroke="#505050" stroke-width="1.300"/>
<polygon points="905.6,8.2 911.1,8.2 908.35,11.2" fill="#000"/>
<rect x="917" y="1" width="1" height="18" fill="#a0a0a0" shape-rendering="crispEdges"/><rect x="918" y="1" width="1" height="18" fill="#fafafa" shape-rendering="crispEdges"/>
<rect x="920.700" y="2" width="3" height="1" fill="#a8a8a8" shape-rendering="crispEdges"/><rect x="920.700" y="4" width="3" height="1" fill="#a8a8a8" shape-rendering="crispEdges"/><rect x="920.700" y="6" width="3" height="1" fill="#a8a8a8" shape-rendering="crispEdges"/><rect x="920.700" y="8" width="3" height="1" fill="#a8a8a8" shape-rendering="crispEdges"/><rect x="920.700" y="10" width="3" height="1" fill="#a8a8a8" shape-rendering="crispEdges"/><rect x="920.700" y="12" width="3" height="1" fill="#a8a8a8" shape-rendering="crispEdges"/><rect x="920.700" y="14" width="3" height="1" fill="#a8a8a8" shape-rendering="crispEdges"/><rect x="920.700" y="16" width="3" height="1" fill="#a8a8a8" shape-rendering="crispEdges"/><rect x="920.700" y="18" width="3" height="1" fill="#a8a8a8" shape-rendering="crispEdges"/>
<text x="939" y="12.800" font-size="9" fill="#484848" text-anchor="middle" >M1</text>
<text x="967" y="12.800" font-size="9" fill="#484848" text-anchor="middle" >M5</text>
<text x="995.300" y="12.800" font-size="9" fill="#484848" text-anchor="middle" >M15</text>
<text x="1023.500" y="12.800" font-size="9" fill="#484848" text-anchor="middle" >M30</text>
<text x="1051.300" y="12.800" font-size="9" fill="#484848" text-anchor="middle" >H1</text>
<rect x="1067.500" y="0" width="25" height="20" fill="#f9f9f9" /><rect x="1067" y="0" width="1" height="20" fill="#a0a0a0" shape-rendering="crispEdges"/>
<text x="1078.900" y="12.800" font-size="9" fill="#484848" text-anchor="middle" >H4</text>
<text x="1107.300" y="12.800" font-size="9" fill="#484848" text-anchor="middle" >D1</text>
<text x="1136.200" y="12.800" font-size="9" fill="#484848" text-anchor="middle" >W1</text>
<text x="1163.200" y="12.800" font-size="9" fill="#484848" text-anchor="middle" >MN</text>
<rect x="1178" y="1" width="1" height="18" fill="#a0a0a0" shape-rendering="crispEdges"/><rect x="1179" y="1" width="1" height="18" fill="#fafafa" shape-rendering="crispEdges"/>
<circle cx="1647.800" cy="6.200" r="3.600" fill="none" stroke="#2a60d0" stroke-width="1.700"/><path d="M1645.200 9l-4.200 4.800" stroke="#2a60d0" stroke-width="2" stroke-linecap="round"/>
<path d="M1669.800 14.800l-1.400 2.800 3.600-2.200z" fill="#e4e4f0" stroke="#a8a8a8" stroke-width=".8"/><ellipse cx="1670.600" cy="11.300" rx="5.200" ry="4.200" fill="#ececf4" stroke="#b0b0b0" stroke-width="1"/>
<defs><linearGradient id="gr" x1="0" y1="0" x2="0" y2="1"><stop offset="0" stop-color="#ea6040"/><stop offset="1" stop-color="#d42410"/></linearGradient></defs><circle cx="1679.500" cy="6.300" r="8.400" fill="url(#gr)"/>
<text x="1679.000" y="10.700" font-size="13" fill="#fff" text-anchor="middle" style="font-family:'Liberation Serif',serif" >1</text>
</svg>
</body></html>
